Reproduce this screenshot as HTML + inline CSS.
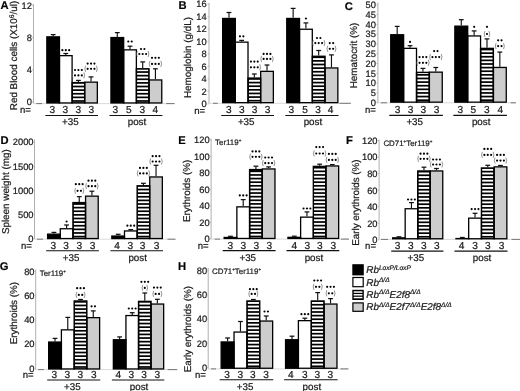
<!DOCTYPE html>
<html><head><meta charset="utf-8"><style>
html,body{margin:0;padding:0;background:#fff;overflow:hidden;}
svg{display:block;font-family:"Liberation Sans", sans-serif;filter:blur(0.3px);text-rendering:geometricPrecision;}
text{stroke:#1a1a1a;stroke-width:0.22px;}
</style></head><body>
<svg width="520" height="391" viewBox="0 0 520 391">
<rect width="520" height="391" fill="#fff"/>
<line x1="33.5" y1="4.0" x2="33.5" y2="103.6" stroke="#b0b0b0" stroke-width="1"/>
<line x1="33.5" y1="103.6" x2="174.6" y2="103.6" stroke="#d6d6d6" stroke-width="0.9"/>
<line x1="36.3" y1="103.6" x2="42.1" y2="103.6" stroke="#777" stroke-width="1"/>
<line x1="166.2" y1="103.6" x2="174.6" y2="103.6" stroke="#777" stroke-width="1"/>
<text transform="translate(31.90,105.40) " font-size="9.3" text-anchor="end" fill="#1a1a1a">0</text>
<line x1="32.0" y1="102.10" x2="33.5" y2="102.10" stroke="#b0b0b0" stroke-width="0.8"/>
<text transform="translate(31.90,73.13) " font-size="9.3" text-anchor="end" fill="#1a1a1a">4</text>
<line x1="32.0" y1="69.83" x2="33.5" y2="69.83" stroke="#b0b0b0" stroke-width="0.8"/>
<text transform="translate(31.90,40.87) " font-size="9.3" text-anchor="end" fill="#1a1a1a">8</text>
<line x1="32.0" y1="37.57" x2="33.5" y2="37.57" stroke="#b0b0b0" stroke-width="0.8"/>
<text transform="translate(31.90,8.60) " font-size="9.3" text-anchor="end" fill="#1a1a1a">12</text>
<line x1="32.0" y1="5.30" x2="33.5" y2="5.30" stroke="#b0b0b0" stroke-width="0.8"/>
<text x="0.50" y="8.80" font-size="11.2" text-anchor="start" fill="#000" font-weight="bold" font-style="normal" >A</text>
<text transform="translate(16.70,55.50) rotate(-90)" x="0" y="0" font-size="9.85" text-anchor="middle" fill="#1a1a1a">Red Blood cells (X10<tspan font-size="6.8" dy="-3.2">6</tspan><tspan dy="3.2">/ul)</tspan></text>
<rect x="46.85" y="36.85" width="12.62" height="66.10" fill="#000"/>
<rect x="59.48" y="55.65" width="12.62" height="47.30" fill="#fff"/>
<rect x="72.10" y="82.55" width="12.62" height="20.40" fill="#000"/>
<rect x="72.85" y="101.85" width="11.12" height="0.45" fill="#fff"/>
<rect x="72.85" y="98.23" width="11.12" height="1.90" fill="#fff"/>
<rect x="72.85" y="94.61" width="11.12" height="1.90" fill="#fff"/>
<rect x="72.85" y="90.99" width="11.12" height="1.90" fill="#fff"/>
<rect x="72.85" y="87.37" width="11.12" height="1.90" fill="#fff"/>
<rect x="72.85" y="83.75" width="11.12" height="1.90" fill="#fff"/>
<rect x="84.72" y="82.15" width="12.62" height="20.80" fill="#cdcdcd"/>
<rect x="46.85" y="36.85" width="12.62" height="66.10" fill="none" stroke="#000" stroke-width="1.3"/>
<rect x="59.48" y="55.65" width="12.62" height="47.30" fill="none" stroke="#000" stroke-width="1.3"/>
<rect x="72.10" y="82.55" width="12.62" height="20.40" fill="none" stroke="#000" stroke-width="1.3"/>
<rect x="84.72" y="82.15" width="12.62" height="20.80" fill="none" stroke="#000" stroke-width="1.3"/>
<line x1="53.16" y1="34.60" x2="53.16" y2="36.20" stroke="#111" stroke-width="1.15"/>
<line x1="50.76" y1="34.60" x2="55.56" y2="34.60" stroke="#111" stroke-width="1.25"/>
<line x1="65.79" y1="53.50" x2="65.79" y2="55.00" stroke="#111" stroke-width="1.15"/>
<line x1="63.39" y1="53.50" x2="68.19" y2="53.50" stroke="#111" stroke-width="1.25"/>
<line x1="78.41" y1="80.40" x2="78.41" y2="81.90" stroke="#111" stroke-width="1.15"/>
<line x1="76.01" y1="80.40" x2="80.81" y2="80.40" stroke="#111" stroke-width="1.25"/>
<line x1="91.04" y1="76.90" x2="91.04" y2="81.50" stroke="#111" stroke-width="1.15"/>
<line x1="88.64" y1="76.90" x2="93.44" y2="76.90" stroke="#111" stroke-width="1.25"/>
<text x="52.30" y="113.30" font-size="10.1" text-anchor="middle" fill="#1a1a1a" font-weight="normal" font-style="normal" >3</text>
<circle cx="62.39" cy="50.20" r="1.08" fill="#000"/>
<circle cx="65.79" cy="50.20" r="1.08" fill="#000"/>
<circle cx="69.19" cy="50.20" r="1.08" fill="#000"/>
<text x="65.40" y="113.30" font-size="10.1" text-anchor="middle" fill="#1a1a1a" font-weight="normal" font-style="normal" >3</text>
<circle cx="75.01" cy="70.00" r="1.08" fill="#000"/>
<circle cx="78.41" cy="70.00" r="1.08" fill="#000"/>
<circle cx="81.81" cy="70.00" r="1.08" fill="#000"/>
<circle cx="75.01" cy="75.40" r="1.08" fill="#000"/>
<circle cx="78.41" cy="75.40" r="1.08" fill="#000"/>
<circle cx="81.81" cy="75.40" r="1.08" fill="#000"/>
<path d="M73.01,72.40 Q71.41,75.40 73.01,78.40" stroke="#666" stroke-width="0.7" fill="none"/>
<path d="M83.81,72.40 Q85.41,75.40 83.81,78.40" stroke="#666" stroke-width="0.7" fill="none"/>
<text x="78.20" y="113.30" font-size="10.1" text-anchor="middle" fill="#1a1a1a" font-weight="normal" font-style="normal" >3</text>
<circle cx="87.64" cy="63.60" r="1.08" fill="#000"/>
<circle cx="91.04" cy="63.60" r="1.08" fill="#000"/>
<circle cx="94.44" cy="63.60" r="1.08" fill="#000"/>
<circle cx="87.64" cy="68.80" r="1.08" fill="#000"/>
<circle cx="91.04" cy="68.80" r="1.08" fill="#000"/>
<circle cx="94.44" cy="68.80" r="1.08" fill="#000"/>
<path d="M85.64,65.80 Q84.04,68.80 85.64,71.80" stroke="#666" stroke-width="0.7" fill="none"/>
<path d="M96.44,65.80 Q98.04,68.80 96.44,71.80" stroke="#666" stroke-width="0.7" fill="none"/>
<text x="91.30" y="113.30" font-size="10.1" text-anchor="middle" fill="#1a1a1a" font-weight="normal" font-style="normal" >3</text>
<line x1="45.40" y1="115.5" x2="98.00" y2="115.5" stroke="#111" stroke-width="1.1"/>
<text x="70.30" y="124.70" font-size="9.8" text-anchor="middle" fill="#1a1a1a" font-weight="normal" font-style="normal" >+35</text>
<rect x="110.95" y="37.55" width="12.71" height="65.40" fill="#000"/>
<rect x="123.66" y="49.85" width="12.71" height="53.10" fill="#fff"/>
<rect x="136.36" y="68.75" width="12.71" height="34.20" fill="#000"/>
<rect x="137.11" y="101.85" width="11.21" height="0.45" fill="#fff"/>
<rect x="137.11" y="98.23" width="11.21" height="1.90" fill="#fff"/>
<rect x="137.11" y="94.61" width="11.21" height="1.90" fill="#fff"/>
<rect x="137.11" y="90.99" width="11.21" height="1.90" fill="#fff"/>
<rect x="137.11" y="87.37" width="11.21" height="1.90" fill="#fff"/>
<rect x="137.11" y="83.75" width="11.21" height="1.90" fill="#fff"/>
<rect x="137.11" y="80.13" width="11.21" height="1.90" fill="#fff"/>
<rect x="137.11" y="76.51" width="11.21" height="1.90" fill="#fff"/>
<rect x="137.11" y="72.89" width="11.21" height="1.90" fill="#fff"/>
<rect x="137.11" y="69.50" width="11.21" height="1.67" fill="#fff"/>
<rect x="149.06" y="79.95" width="12.71" height="23.00" fill="#cdcdcd"/>
<rect x="110.95" y="37.55" width="12.71" height="65.40" fill="none" stroke="#000" stroke-width="1.3"/>
<rect x="123.66" y="49.85" width="12.71" height="53.10" fill="none" stroke="#000" stroke-width="1.3"/>
<rect x="136.36" y="68.75" width="12.71" height="34.20" fill="none" stroke="#000" stroke-width="1.3"/>
<rect x="149.06" y="79.95" width="12.71" height="23.00" fill="none" stroke="#000" stroke-width="1.3"/>
<line x1="117.30" y1="32.60" x2="117.30" y2="36.90" stroke="#111" stroke-width="1.15"/>
<line x1="114.90" y1="32.60" x2="119.70" y2="32.60" stroke="#111" stroke-width="1.25"/>
<line x1="130.01" y1="46.20" x2="130.01" y2="49.20" stroke="#111" stroke-width="1.15"/>
<line x1="127.61" y1="46.20" x2="132.41" y2="46.20" stroke="#111" stroke-width="1.25"/>
<line x1="142.71" y1="61.90" x2="142.71" y2="68.10" stroke="#111" stroke-width="1.15"/>
<line x1="140.31" y1="61.90" x2="145.11" y2="61.90" stroke="#111" stroke-width="1.25"/>
<line x1="155.42" y1="68.80" x2="155.42" y2="79.30" stroke="#111" stroke-width="1.15"/>
<line x1="153.02" y1="68.80" x2="157.82" y2="68.80" stroke="#111" stroke-width="1.25"/>
<text x="115.30" y="113.30" font-size="10.1" text-anchor="middle" fill="#1a1a1a" font-weight="normal" font-style="normal" >3</text>
<circle cx="128.31" cy="41.50" r="1.08" fill="#000"/>
<circle cx="131.71" cy="41.50" r="1.08" fill="#000"/>
<text x="128.90" y="113.30" font-size="10.1" text-anchor="middle" fill="#1a1a1a" font-weight="normal" font-style="normal" >5</text>
<circle cx="141.01" cy="49.00" r="1.08" fill="#000"/>
<circle cx="144.41" cy="49.00" r="1.08" fill="#000"/>
<circle cx="139.31" cy="54.00" r="1.08" fill="#000"/>
<circle cx="142.71" cy="54.00" r="1.08" fill="#000"/>
<circle cx="146.11" cy="54.00" r="1.08" fill="#000"/>
<path d="M137.31,51.00 Q135.71,54.00 137.31,57.00" stroke="#666" stroke-width="0.7" fill="none"/>
<path d="M148.11,51.00 Q149.71,54.00 148.11,57.00" stroke="#666" stroke-width="0.7" fill="none"/>
<text x="142.20" y="113.30" font-size="10.1" text-anchor="middle" fill="#1a1a1a" font-weight="normal" font-style="normal" >3</text>
<circle cx="152.02" cy="57.80" r="1.08" fill="#000"/>
<circle cx="155.42" cy="57.80" r="1.08" fill="#000"/>
<circle cx="158.82" cy="57.80" r="1.08" fill="#000"/>
<circle cx="152.02" cy="63.90" r="1.08" fill="#000"/>
<circle cx="155.42" cy="63.90" r="1.08" fill="#000"/>
<circle cx="158.82" cy="63.90" r="1.08" fill="#000"/>
<path d="M150.02,60.90 Q148.42,63.90 150.02,66.90" stroke="#666" stroke-width="0.7" fill="none"/>
<path d="M160.82,60.90 Q162.42,63.90 160.82,66.90" stroke="#666" stroke-width="0.7" fill="none"/>
<text x="155.20" y="113.30" font-size="10.1" text-anchor="middle" fill="#1a1a1a" font-weight="normal" font-style="normal" >4</text>
<line x1="109.50" y1="115.5" x2="162.42" y2="115.5" stroke="#111" stroke-width="1.1"/>
<text x="136.96" y="124.70" font-size="9.8" text-anchor="middle" fill="#1a1a1a" font-weight="normal" font-style="normal" >post</text>
<text x="30.90" y="113.20" font-size="9.6" text-anchor="end" fill="#1a1a1a" font-weight="normal" font-style="normal" >n=</text>
<line x1="209.0" y1="3.0" x2="209.0" y2="103.3" stroke="#b0b0b0" stroke-width="1"/>
<line x1="209.0" y1="103.3" x2="350.8" y2="103.3" stroke="#d6d6d6" stroke-width="0.9"/>
<line x1="213" y1="103.3" x2="217.7" y2="103.3" stroke="#777" stroke-width="1"/>
<line x1="339.5" y1="103.3" x2="350.8" y2="103.3" stroke="#777" stroke-width="1"/>
<text transform="translate(206.60,107.20) " font-size="9.3" text-anchor="end" fill="#1a1a1a">0</text>
<line x1="207.5" y1="103.90" x2="209.0" y2="103.90" stroke="#b0b0b0" stroke-width="0.8"/>
<text transform="translate(206.60,94.69) " font-size="9.3" text-anchor="end" fill="#1a1a1a">2</text>
<line x1="207.5" y1="91.39" x2="209.0" y2="91.39" stroke="#b0b0b0" stroke-width="0.8"/>
<text transform="translate(206.60,82.17) " font-size="9.3" text-anchor="end" fill="#1a1a1a">4</text>
<line x1="207.5" y1="78.88" x2="209.0" y2="78.88" stroke="#b0b0b0" stroke-width="0.8"/>
<text transform="translate(206.60,69.66) " font-size="9.3" text-anchor="end" fill="#1a1a1a">6</text>
<line x1="207.5" y1="66.36" x2="209.0" y2="66.36" stroke="#b0b0b0" stroke-width="0.8"/>
<text transform="translate(206.60,57.15) " font-size="9.3" text-anchor="end" fill="#1a1a1a">8</text>
<line x1="207.5" y1="53.85" x2="209.0" y2="53.85" stroke="#b0b0b0" stroke-width="0.8"/>
<text transform="translate(206.60,44.64) " font-size="9.3" text-anchor="end" fill="#1a1a1a">10</text>
<line x1="207.5" y1="41.34" x2="209.0" y2="41.34" stroke="#b0b0b0" stroke-width="0.8"/>
<text transform="translate(206.60,32.12) " font-size="9.3" text-anchor="end" fill="#1a1a1a">12</text>
<line x1="207.5" y1="28.83" x2="209.0" y2="28.83" stroke="#b0b0b0" stroke-width="0.8"/>
<text transform="translate(206.60,19.61) " font-size="9.3" text-anchor="end" fill="#1a1a1a">14</text>
<line x1="207.5" y1="16.31" x2="209.0" y2="16.31" stroke="#b0b0b0" stroke-width="0.8"/>
<text transform="translate(206.60,7.10) " font-size="9.3" text-anchor="end" fill="#1a1a1a">16</text>
<line x1="207.5" y1="3.80" x2="209.0" y2="3.80" stroke="#b0b0b0" stroke-width="0.8"/>
<text x="178.40" y="8.80" font-size="11.2" text-anchor="start" fill="#000" font-weight="bold" font-style="normal" >B</text>
<text transform="translate(190.50,57.50) rotate(-90)" x="0" y="0" font-size="9.85" text-anchor="middle" fill="#1a1a1a">Hemoglobin (g/dL)</text>
<rect x="222.65" y="18.45" width="12.68" height="84.20" fill="#000"/>
<rect x="235.33" y="42.15" width="12.68" height="60.50" fill="#fff"/>
<rect x="248.00" y="78.05" width="12.68" height="24.60" fill="#000"/>
<rect x="248.75" y="101.55" width="11.18" height="0.45" fill="#fff"/>
<rect x="248.75" y="97.93" width="11.18" height="1.90" fill="#fff"/>
<rect x="248.75" y="94.31" width="11.18" height="1.90" fill="#fff"/>
<rect x="248.75" y="90.69" width="11.18" height="1.90" fill="#fff"/>
<rect x="248.75" y="87.07" width="11.18" height="1.90" fill="#fff"/>
<rect x="248.75" y="83.45" width="11.18" height="1.90" fill="#fff"/>
<rect x="248.75" y="79.83" width="11.18" height="1.90" fill="#fff"/>
<rect x="260.68" y="71.35" width="12.68" height="31.30" fill="#cdcdcd"/>
<rect x="222.65" y="18.45" width="12.68" height="84.20" fill="none" stroke="#000" stroke-width="1.3"/>
<rect x="235.33" y="42.15" width="12.68" height="60.50" fill="none" stroke="#000" stroke-width="1.3"/>
<rect x="248.00" y="78.05" width="12.68" height="24.60" fill="none" stroke="#000" stroke-width="1.3"/>
<rect x="260.68" y="71.35" width="12.68" height="31.30" fill="none" stroke="#000" stroke-width="1.3"/>
<line x1="228.99" y1="12.50" x2="228.99" y2="17.80" stroke="#111" stroke-width="1.15"/>
<line x1="226.59" y1="12.50" x2="231.39" y2="12.50" stroke="#111" stroke-width="1.25"/>
<line x1="241.66" y1="40.40" x2="241.66" y2="41.50" stroke="#111" stroke-width="1.15"/>
<line x1="239.26" y1="40.40" x2="244.06" y2="40.40" stroke="#111" stroke-width="1.25"/>
<line x1="254.34" y1="74.00" x2="254.34" y2="77.40" stroke="#111" stroke-width="1.15"/>
<line x1="251.94" y1="74.00" x2="256.74" y2="74.00" stroke="#111" stroke-width="1.25"/>
<line x1="267.01" y1="65.00" x2="267.01" y2="70.70" stroke="#111" stroke-width="1.15"/>
<line x1="264.61" y1="65.00" x2="269.41" y2="65.00" stroke="#111" stroke-width="1.25"/>
<text x="228.80" y="113.40" font-size="10.1" text-anchor="middle" fill="#1a1a1a" font-weight="normal" font-style="normal" >3</text>
<circle cx="239.96" cy="36.30" r="1.08" fill="#000"/>
<circle cx="243.36" cy="36.30" r="1.08" fill="#000"/>
<text x="241.80" y="113.40" font-size="10.1" text-anchor="middle" fill="#1a1a1a" font-weight="normal" font-style="normal" >3</text>
<circle cx="250.94" cy="61.60" r="1.08" fill="#000"/>
<circle cx="254.34" cy="61.60" r="1.08" fill="#000"/>
<circle cx="257.74" cy="61.60" r="1.08" fill="#000"/>
<circle cx="250.94" cy="67.30" r="1.08" fill="#000"/>
<circle cx="254.34" cy="67.30" r="1.08" fill="#000"/>
<circle cx="257.74" cy="67.30" r="1.08" fill="#000"/>
<path d="M248.94,64.30 Q247.34,67.30 248.94,70.30" stroke="#666" stroke-width="0.7" fill="none"/>
<path d="M259.74,64.30 Q261.34,67.30 259.74,70.30" stroke="#666" stroke-width="0.7" fill="none"/>
<text x="254.50" y="113.40" font-size="10.1" text-anchor="middle" fill="#1a1a1a" font-weight="normal" font-style="normal" >3</text>
<circle cx="263.61" cy="53.90" r="1.08" fill="#000"/>
<circle cx="267.01" cy="53.90" r="1.08" fill="#000"/>
<circle cx="270.41" cy="53.90" r="1.08" fill="#000"/>
<circle cx="263.61" cy="58.90" r="1.08" fill="#000"/>
<circle cx="267.01" cy="58.90" r="1.08" fill="#000"/>
<circle cx="270.41" cy="58.90" r="1.08" fill="#000"/>
<path d="M261.61,55.90 Q260.01,58.90 261.61,61.90" stroke="#666" stroke-width="0.7" fill="none"/>
<path d="M272.41,55.90 Q274.01,58.90 272.41,61.90" stroke="#666" stroke-width="0.7" fill="none"/>
<text x="267.50" y="113.40" font-size="10.1" text-anchor="middle" fill="#1a1a1a" font-weight="normal" font-style="normal" >3</text>
<line x1="221.20" y1="115.5" x2="274.00" y2="115.5" stroke="#111" stroke-width="1.1"/>
<text x="246.20" y="125.00" font-size="9.8" text-anchor="middle" fill="#1a1a1a" font-weight="normal" font-style="normal" >+35</text>
<rect x="286.75" y="18.45" width="12.78" height="84.20" fill="#000"/>
<rect x="299.52" y="29.25" width="12.78" height="73.40" fill="#fff"/>
<rect x="312.30" y="56.25" width="12.78" height="46.40" fill="#000"/>
<rect x="313.05" y="101.55" width="11.28" height="0.45" fill="#fff"/>
<rect x="313.05" y="97.93" width="11.28" height="1.90" fill="#fff"/>
<rect x="313.05" y="94.31" width="11.28" height="1.90" fill="#fff"/>
<rect x="313.05" y="90.69" width="11.28" height="1.90" fill="#fff"/>
<rect x="313.05" y="87.07" width="11.28" height="1.90" fill="#fff"/>
<rect x="313.05" y="83.45" width="11.28" height="1.90" fill="#fff"/>
<rect x="313.05" y="79.83" width="11.28" height="1.90" fill="#fff"/>
<rect x="313.05" y="76.21" width="11.28" height="1.90" fill="#fff"/>
<rect x="313.05" y="72.59" width="11.28" height="1.90" fill="#fff"/>
<rect x="313.05" y="68.97" width="11.28" height="1.90" fill="#fff"/>
<rect x="313.05" y="65.35" width="11.28" height="1.90" fill="#fff"/>
<rect x="313.05" y="61.73" width="11.28" height="1.90" fill="#fff"/>
<rect x="313.05" y="58.11" width="11.28" height="1.90" fill="#fff"/>
<rect x="325.07" y="67.95" width="12.78" height="34.70" fill="#cdcdcd"/>
<rect x="286.75" y="18.45" width="12.78" height="84.20" fill="none" stroke="#000" stroke-width="1.3"/>
<rect x="299.52" y="29.25" width="12.78" height="73.40" fill="none" stroke="#000" stroke-width="1.3"/>
<rect x="312.30" y="56.25" width="12.78" height="46.40" fill="none" stroke="#000" stroke-width="1.3"/>
<rect x="325.07" y="67.95" width="12.78" height="34.70" fill="none" stroke="#000" stroke-width="1.3"/>
<line x1="293.14" y1="8.40" x2="293.14" y2="17.80" stroke="#111" stroke-width="1.15"/>
<line x1="290.74" y1="8.40" x2="295.54" y2="8.40" stroke="#111" stroke-width="1.25"/>
<line x1="305.91" y1="22.90" x2="305.91" y2="28.60" stroke="#111" stroke-width="1.15"/>
<line x1="303.51" y1="22.90" x2="308.31" y2="22.90" stroke="#111" stroke-width="1.25"/>
<line x1="318.69" y1="50.50" x2="318.69" y2="55.60" stroke="#111" stroke-width="1.15"/>
<line x1="316.29" y1="50.50" x2="321.09" y2="50.50" stroke="#111" stroke-width="1.25"/>
<line x1="331.46" y1="54.90" x2="331.46" y2="67.30" stroke="#111" stroke-width="1.15"/>
<line x1="329.06" y1="54.90" x2="333.86" y2="54.90" stroke="#111" stroke-width="1.25"/>
<text x="291.30" y="113.40" font-size="10.1" text-anchor="middle" fill="#1a1a1a" font-weight="normal" font-style="normal" >3</text>
<circle cx="305.91" cy="18.50" r="1.08" fill="#000"/>
<text x="305.00" y="113.40" font-size="10.1" text-anchor="middle" fill="#1a1a1a" font-weight="normal" font-style="normal" >5</text>
<circle cx="316.99" cy="38.00" r="1.08" fill="#000"/>
<circle cx="320.39" cy="38.00" r="1.08" fill="#000"/>
<circle cx="315.29" cy="43.10" r="1.08" fill="#000"/>
<circle cx="318.69" cy="43.10" r="1.08" fill="#000"/>
<circle cx="322.09" cy="43.10" r="1.08" fill="#000"/>
<path d="M313.29,40.10 Q311.69,43.10 313.29,46.10" stroke="#666" stroke-width="0.7" fill="none"/>
<path d="M324.09,40.10 Q325.69,43.10 324.09,46.10" stroke="#666" stroke-width="0.7" fill="none"/>
<text x="318.00" y="113.40" font-size="10.1" text-anchor="middle" fill="#1a1a1a" font-weight="normal" font-style="normal" >3</text>
<circle cx="329.76" cy="43.10" r="1.08" fill="#000"/>
<circle cx="333.16" cy="43.10" r="1.08" fill="#000"/>
<circle cx="329.76" cy="48.80" r="1.08" fill="#000"/>
<circle cx="333.16" cy="48.80" r="1.08" fill="#000"/>
<path d="M327.76,45.80 Q326.16,48.80 327.76,51.80" stroke="#666" stroke-width="0.7" fill="none"/>
<path d="M335.16,45.80 Q336.76,48.80 335.16,51.80" stroke="#666" stroke-width="0.7" fill="none"/>
<text x="330.50" y="113.40" font-size="10.1" text-anchor="middle" fill="#1a1a1a" font-weight="normal" font-style="normal" >4</text>
<line x1="285.30" y1="115.5" x2="338.50" y2="115.5" stroke="#111" stroke-width="1.1"/>
<text x="312.90" y="125.00" font-size="9.8" text-anchor="middle" fill="#1a1a1a" font-weight="normal" font-style="normal" >post</text>
<text x="205.20" y="113.60" font-size="9.6" text-anchor="end" fill="#1a1a1a" font-weight="normal" font-style="normal" >n=</text>
<line x1="377.9" y1="2.5" x2="377.9" y2="102.8" stroke="#b0b0b0" stroke-width="1"/>
<line x1="377.9" y1="102.8" x2="515.9" y2="102.8" stroke="#d6d6d6" stroke-width="0.9"/>
<line x1="380.8" y1="102.8" x2="386.9" y2="102.8" stroke="#777" stroke-width="1"/>
<line x1="510.5" y1="102.8" x2="515.9" y2="102.8" stroke="#777" stroke-width="1"/>
<text transform="translate(375.80,106.00) " font-size="9.3" text-anchor="end" fill="#1a1a1a">0</text>
<line x1="376.4" y1="102.70" x2="377.9" y2="102.70" stroke="#b0b0b0" stroke-width="0.8"/>
<text transform="translate(375.80,96.21) " font-size="9.3" text-anchor="end" fill="#1a1a1a">5</text>
<line x1="376.4" y1="92.91" x2="377.9" y2="92.91" stroke="#b0b0b0" stroke-width="0.8"/>
<text transform="translate(375.80,86.42) " font-size="9.3" text-anchor="end" fill="#1a1a1a">10</text>
<line x1="376.4" y1="83.12" x2="377.9" y2="83.12" stroke="#b0b0b0" stroke-width="0.8"/>
<text transform="translate(375.80,76.63) " font-size="9.3" text-anchor="end" fill="#1a1a1a">15</text>
<line x1="376.4" y1="73.33" x2="377.9" y2="73.33" stroke="#b0b0b0" stroke-width="0.8"/>
<text transform="translate(375.80,66.84) " font-size="9.3" text-anchor="end" fill="#1a1a1a">20</text>
<line x1="376.4" y1="63.54" x2="377.9" y2="63.54" stroke="#b0b0b0" stroke-width="0.8"/>
<text transform="translate(375.80,57.05) " font-size="9.3" text-anchor="end" fill="#1a1a1a">25</text>
<line x1="376.4" y1="53.75" x2="377.9" y2="53.75" stroke="#b0b0b0" stroke-width="0.8"/>
<text transform="translate(375.80,47.26) " font-size="9.3" text-anchor="end" fill="#1a1a1a">30</text>
<line x1="376.4" y1="43.96" x2="377.9" y2="43.96" stroke="#b0b0b0" stroke-width="0.8"/>
<text transform="translate(375.80,37.47) " font-size="9.3" text-anchor="end" fill="#1a1a1a">35</text>
<line x1="376.4" y1="34.17" x2="377.9" y2="34.17" stroke="#b0b0b0" stroke-width="0.8"/>
<text transform="translate(375.80,27.68) " font-size="9.3" text-anchor="end" fill="#1a1a1a">40</text>
<line x1="376.4" y1="24.38" x2="377.9" y2="24.38" stroke="#b0b0b0" stroke-width="0.8"/>
<text transform="translate(375.80,17.89) " font-size="9.3" text-anchor="end" fill="#1a1a1a">45</text>
<line x1="376.4" y1="14.59" x2="377.9" y2="14.59" stroke="#b0b0b0" stroke-width="0.8"/>
<text transform="translate(375.80,8.10) " font-size="9.3" text-anchor="end" fill="#1a1a1a">50</text>
<line x1="376.4" y1="4.80" x2="377.9" y2="4.80" stroke="#b0b0b0" stroke-width="0.8"/>
<text x="344.80" y="9.50" font-size="11.2" text-anchor="start" fill="#000" font-weight="bold" font-style="normal" >C</text>
<text transform="translate(357.10,55.50) rotate(-90)" x="0" y="0" font-size="9.85" text-anchor="middle" fill="#1a1a1a">Hematocrit (%)</text>
<rect x="390.75" y="34.75" width="12.88" height="67.40" fill="#000"/>
<rect x="403.62" y="48.35" width="12.88" height="53.80" fill="#fff"/>
<rect x="416.50" y="72.35" width="12.88" height="29.80" fill="#000"/>
<rect x="417.25" y="101.05" width="11.38" height="0.45" fill="#fff"/>
<rect x="417.25" y="97.43" width="11.38" height="1.90" fill="#fff"/>
<rect x="417.25" y="93.81" width="11.38" height="1.90" fill="#fff"/>
<rect x="417.25" y="90.19" width="11.38" height="1.90" fill="#fff"/>
<rect x="417.25" y="86.57" width="11.38" height="1.90" fill="#fff"/>
<rect x="417.25" y="82.95" width="11.38" height="1.90" fill="#fff"/>
<rect x="417.25" y="79.33" width="11.38" height="1.90" fill="#fff"/>
<rect x="417.25" y="75.71" width="11.38" height="1.90" fill="#fff"/>
<rect x="417.25" y="73.10" width="11.38" height="0.89" fill="#fff"/>
<rect x="429.38" y="72.15" width="12.88" height="30.00" fill="#cdcdcd"/>
<rect x="390.75" y="34.75" width="12.88" height="67.40" fill="none" stroke="#000" stroke-width="1.3"/>
<rect x="403.62" y="48.35" width="12.88" height="53.80" fill="none" stroke="#000" stroke-width="1.3"/>
<rect x="416.50" y="72.35" width="12.88" height="29.80" fill="none" stroke="#000" stroke-width="1.3"/>
<rect x="429.38" y="72.15" width="12.88" height="30.00" fill="none" stroke="#000" stroke-width="1.3"/>
<line x1="397.19" y1="26.40" x2="397.19" y2="34.10" stroke="#111" stroke-width="1.15"/>
<line x1="394.79" y1="26.40" x2="399.59" y2="26.40" stroke="#111" stroke-width="1.25"/>
<line x1="410.06" y1="45.70" x2="410.06" y2="47.70" stroke="#111" stroke-width="1.15"/>
<line x1="407.66" y1="45.70" x2="412.46" y2="45.70" stroke="#111" stroke-width="1.25"/>
<line x1="422.94" y1="68.40" x2="422.94" y2="71.70" stroke="#111" stroke-width="1.15"/>
<line x1="420.54" y1="68.40" x2="425.34" y2="68.40" stroke="#111" stroke-width="1.25"/>
<line x1="435.81" y1="67.50" x2="435.81" y2="71.50" stroke="#111" stroke-width="1.15"/>
<line x1="433.41" y1="67.50" x2="438.21" y2="67.50" stroke="#111" stroke-width="1.25"/>
<text x="397.60" y="113.40" font-size="10.1" text-anchor="middle" fill="#1a1a1a" font-weight="normal" font-style="normal" >3</text>
<circle cx="410.06" cy="41.90" r="1.08" fill="#000"/>
<text x="410.50" y="113.40" font-size="10.1" text-anchor="middle" fill="#1a1a1a" font-weight="normal" font-style="normal" >3</text>
<circle cx="419.54" cy="57.10" r="1.08" fill="#000"/>
<circle cx="422.94" cy="57.10" r="1.08" fill="#000"/>
<circle cx="426.34" cy="57.10" r="1.08" fill="#000"/>
<circle cx="419.54" cy="62.80" r="1.08" fill="#000"/>
<circle cx="422.94" cy="62.80" r="1.08" fill="#000"/>
<circle cx="426.34" cy="62.80" r="1.08" fill="#000"/>
<path d="M417.54,59.80 Q415.94,62.80 417.54,65.80" stroke="#666" stroke-width="0.7" fill="none"/>
<path d="M428.34,59.80 Q429.94,62.80 428.34,65.80" stroke="#666" stroke-width="0.7" fill="none"/>
<text x="423.20" y="113.40" font-size="10.1" text-anchor="middle" fill="#1a1a1a" font-weight="normal" font-style="normal" >3</text>
<circle cx="434.11" cy="51.10" r="1.08" fill="#000"/>
<circle cx="437.51" cy="51.10" r="1.08" fill="#000"/>
<circle cx="432.41" cy="57.10" r="1.08" fill="#000"/>
<circle cx="435.81" cy="57.10" r="1.08" fill="#000"/>
<circle cx="439.21" cy="57.10" r="1.08" fill="#000"/>
<path d="M430.41,54.10 Q428.81,57.10 430.41,60.10" stroke="#666" stroke-width="0.7" fill="none"/>
<path d="M441.21,54.10 Q442.81,57.10 441.21,60.10" stroke="#666" stroke-width="0.7" fill="none"/>
<text x="436.50" y="113.40" font-size="10.1" text-anchor="middle" fill="#1a1a1a" font-weight="normal" font-style="normal" >3</text>
<line x1="389.30" y1="115.4" x2="442.90" y2="115.4" stroke="#111" stroke-width="1.1"/>
<text x="414.70" y="125.00" font-size="9.8" text-anchor="middle" fill="#1a1a1a" font-weight="normal" font-style="normal" >+35</text>
<rect x="454.85" y="26.15" width="12.86" height="76.00" fill="#000"/>
<rect x="467.70" y="35.95" width="12.86" height="66.20" fill="#fff"/>
<rect x="480.56" y="48.35" width="12.86" height="53.80" fill="#000"/>
<rect x="481.31" y="101.05" width="11.36" height="0.45" fill="#fff"/>
<rect x="481.31" y="97.43" width="11.36" height="1.90" fill="#fff"/>
<rect x="481.31" y="93.81" width="11.36" height="1.90" fill="#fff"/>
<rect x="481.31" y="90.19" width="11.36" height="1.90" fill="#fff"/>
<rect x="481.31" y="86.57" width="11.36" height="1.90" fill="#fff"/>
<rect x="481.31" y="82.95" width="11.36" height="1.90" fill="#fff"/>
<rect x="481.31" y="79.33" width="11.36" height="1.90" fill="#fff"/>
<rect x="481.31" y="75.71" width="11.36" height="1.90" fill="#fff"/>
<rect x="481.31" y="72.09" width="11.36" height="1.90" fill="#fff"/>
<rect x="481.31" y="68.47" width="11.36" height="1.90" fill="#fff"/>
<rect x="481.31" y="64.85" width="11.36" height="1.90" fill="#fff"/>
<rect x="481.31" y="61.23" width="11.36" height="1.90" fill="#fff"/>
<rect x="481.31" y="57.61" width="11.36" height="1.90" fill="#fff"/>
<rect x="481.31" y="53.99" width="11.36" height="1.90" fill="#fff"/>
<rect x="481.31" y="50.37" width="11.36" height="1.90" fill="#fff"/>
<rect x="493.41" y="67.45" width="12.86" height="34.70" fill="#cdcdcd"/>
<rect x="454.85" y="26.15" width="12.86" height="76.00" fill="none" stroke="#000" stroke-width="1.3"/>
<rect x="467.70" y="35.95" width="12.86" height="66.20" fill="none" stroke="#000" stroke-width="1.3"/>
<rect x="480.56" y="48.35" width="12.86" height="53.80" fill="none" stroke="#000" stroke-width="1.3"/>
<rect x="493.41" y="67.45" width="12.86" height="34.70" fill="none" stroke="#000" stroke-width="1.3"/>
<line x1="461.28" y1="19.70" x2="461.28" y2="25.50" stroke="#111" stroke-width="1.15"/>
<line x1="458.88" y1="19.70" x2="463.68" y2="19.70" stroke="#111" stroke-width="1.25"/>
<line x1="474.13" y1="30.90" x2="474.13" y2="35.30" stroke="#111" stroke-width="1.15"/>
<line x1="471.73" y1="30.90" x2="476.53" y2="30.90" stroke="#111" stroke-width="1.25"/>
<line x1="486.99" y1="38.90" x2="486.99" y2="47.70" stroke="#111" stroke-width="1.15"/>
<line x1="484.59" y1="38.90" x2="489.39" y2="38.90" stroke="#111" stroke-width="1.25"/>
<line x1="499.84" y1="52.10" x2="499.84" y2="66.80" stroke="#111" stroke-width="1.15"/>
<line x1="497.44" y1="52.10" x2="502.24" y2="52.10" stroke="#111" stroke-width="1.25"/>
<text x="460.40" y="113.40" font-size="10.1" text-anchor="middle" fill="#1a1a1a" font-weight="normal" font-style="normal" >3</text>
<circle cx="474.13" cy="26.80" r="1.08" fill="#000"/>
<text x="473.30" y="113.40" font-size="10.1" text-anchor="middle" fill="#1a1a1a" font-weight="normal" font-style="normal" >5</text>
<circle cx="486.99" cy="26.80" r="1.08" fill="#000"/>
<circle cx="486.99" cy="34.00" r="1.08" fill="#000"/>
<path d="M484.99,31.00 Q483.39,34.00 484.99,37.00" stroke="#666" stroke-width="0.7" fill="none"/>
<path d="M488.99,31.00 Q490.59,34.00 488.99,37.00" stroke="#666" stroke-width="0.7" fill="none"/>
<text x="486.90" y="113.40" font-size="10.1" text-anchor="middle" fill="#1a1a1a" font-weight="normal" font-style="normal" >3</text>
<circle cx="498.14" cy="40.30" r="1.08" fill="#000"/>
<circle cx="501.54" cy="40.30" r="1.08" fill="#000"/>
<circle cx="498.14" cy="46.10" r="1.08" fill="#000"/>
<circle cx="501.54" cy="46.10" r="1.08" fill="#000"/>
<path d="M496.14,43.10 Q494.54,46.10 496.14,49.10" stroke="#666" stroke-width="0.7" fill="none"/>
<path d="M503.54,43.10 Q505.14,46.10 503.54,49.10" stroke="#666" stroke-width="0.7" fill="none"/>
<text x="500.30" y="113.40" font-size="10.1" text-anchor="middle" fill="#1a1a1a" font-weight="normal" font-style="normal" >4</text>
<line x1="453.40" y1="115.4" x2="506.92" y2="115.4" stroke="#111" stroke-width="1.1"/>
<text x="481.16" y="125.00" font-size="9.8" text-anchor="middle" fill="#1a1a1a" font-weight="normal" font-style="normal" >post</text>
<text x="375.90" y="113.40" font-size="9.6" text-anchor="end" fill="#1a1a1a" font-weight="normal" font-style="normal" >n=</text>
<line x1="34.5" y1="139.5" x2="34.5" y2="239.2" stroke="#b0b0b0" stroke-width="1"/>
<line x1="34.5" y1="239.2" x2="175.5" y2="239.2" stroke="#d6d6d6" stroke-width="0.9"/>
<line x1="37" y1="239.2" x2="43" y2="239.2" stroke="#777" stroke-width="1"/>
<line x1="167.5" y1="239.2" x2="175.5" y2="239.2" stroke="#777" stroke-width="1"/>
<text transform="translate(33.50,241.90) " font-size="9.3" text-anchor="end" fill="#1a1a1a">0</text>
<line x1="33.0" y1="238.60" x2="34.5" y2="238.60" stroke="#b0b0b0" stroke-width="0.8"/>
<text transform="translate(33.50,217.78) " font-size="9.3" text-anchor="end" fill="#1a1a1a">500</text>
<line x1="33.0" y1="214.47" x2="34.5" y2="214.47" stroke="#b0b0b0" stroke-width="0.8"/>
<text transform="translate(33.50,193.65) " font-size="9.3" text-anchor="end" fill="#1a1a1a">1000</text>
<line x1="33.0" y1="190.35" x2="34.5" y2="190.35" stroke="#b0b0b0" stroke-width="0.8"/>
<text transform="translate(33.50,169.53) " font-size="9.3" text-anchor="end" fill="#1a1a1a">1500</text>
<line x1="33.0" y1="166.22" x2="34.5" y2="166.22" stroke="#b0b0b0" stroke-width="0.8"/>
<text transform="translate(33.50,145.40) " font-size="9.3" text-anchor="end" fill="#1a1a1a">2000</text>
<line x1="33.0" y1="142.10" x2="34.5" y2="142.10" stroke="#b0b0b0" stroke-width="0.8"/>
<text x="0.50" y="143.60" font-size="11.2" text-anchor="start" fill="#000" font-weight="bold" font-style="normal" >D</text>
<text transform="translate(8.80,191.70) rotate(-90)" x="0" y="0" font-size="9.85" text-anchor="middle" fill="#1a1a1a">Spleen weight (mg)</text>
<rect x="47.60" y="234.15" width="12.66" height="4.40" fill="#000"/>
<rect x="60.26" y="228.75" width="12.66" height="9.80" fill="#fff"/>
<rect x="72.91" y="202.55" width="12.66" height="36.00" fill="#000"/>
<rect x="73.66" y="237.45" width="11.16" height="0.45" fill="#fff"/>
<rect x="73.66" y="233.83" width="11.16" height="1.90" fill="#fff"/>
<rect x="73.66" y="230.21" width="11.16" height="1.90" fill="#fff"/>
<rect x="73.66" y="226.59" width="11.16" height="1.90" fill="#fff"/>
<rect x="73.66" y="222.97" width="11.16" height="1.90" fill="#fff"/>
<rect x="73.66" y="219.35" width="11.16" height="1.90" fill="#fff"/>
<rect x="73.66" y="215.73" width="11.16" height="1.90" fill="#fff"/>
<rect x="73.66" y="212.11" width="11.16" height="1.90" fill="#fff"/>
<rect x="73.66" y="208.49" width="11.16" height="1.90" fill="#fff"/>
<rect x="73.66" y="204.87" width="11.16" height="1.90" fill="#fff"/>
<rect x="85.56" y="196.15" width="12.66" height="42.40" fill="#cdcdcd"/>
<rect x="47.60" y="234.15" width="12.66" height="4.40" fill="none" stroke="#000" stroke-width="1.3"/>
<rect x="60.26" y="228.75" width="12.66" height="9.80" fill="none" stroke="#000" stroke-width="1.3"/>
<rect x="72.91" y="202.55" width="12.66" height="36.00" fill="none" stroke="#000" stroke-width="1.3"/>
<rect x="85.56" y="196.15" width="12.66" height="42.40" fill="none" stroke="#000" stroke-width="1.3"/>
<line x1="53.93" y1="232.40" x2="53.93" y2="233.50" stroke="#111" stroke-width="1.15"/>
<line x1="51.53" y1="232.40" x2="56.33" y2="232.40" stroke="#111" stroke-width="1.25"/>
<line x1="66.58" y1="225.00" x2="66.58" y2="228.10" stroke="#111" stroke-width="1.15"/>
<line x1="64.18" y1="225.00" x2="68.98" y2="225.00" stroke="#111" stroke-width="1.25"/>
<line x1="79.24" y1="196.60" x2="79.24" y2="201.90" stroke="#111" stroke-width="1.15"/>
<line x1="76.84" y1="196.60" x2="81.64" y2="196.60" stroke="#111" stroke-width="1.25"/>
<line x1="91.89" y1="191.20" x2="91.89" y2="195.50" stroke="#111" stroke-width="1.15"/>
<line x1="89.49" y1="191.20" x2="94.29" y2="191.20" stroke="#111" stroke-width="1.25"/>
<text x="53.40" y="248.70" font-size="10.1" text-anchor="middle" fill="#1a1a1a" font-weight="normal" font-style="normal" >3</text>
<circle cx="66.58" cy="221.50" r="1.08" fill="#000"/>
<text x="66.00" y="248.70" font-size="10.1" text-anchor="middle" fill="#1a1a1a" font-weight="normal" font-style="normal" >3</text>
<circle cx="75.84" cy="184.20" r="1.08" fill="#000"/>
<circle cx="79.24" cy="184.20" r="1.08" fill="#000"/>
<circle cx="82.64" cy="184.20" r="1.08" fill="#000"/>
<circle cx="77.54" cy="190.80" r="1.08" fill="#000"/>
<circle cx="80.94" cy="190.80" r="1.08" fill="#000"/>
<path d="M75.54,187.80 Q73.94,190.80 75.54,193.80" stroke="#666" stroke-width="0.7" fill="none"/>
<path d="M82.94,187.80 Q84.54,190.80 82.94,193.80" stroke="#666" stroke-width="0.7" fill="none"/>
<text x="79.40" y="248.70" font-size="10.1" text-anchor="middle" fill="#1a1a1a" font-weight="normal" font-style="normal" >3</text>
<circle cx="88.49" cy="180.70" r="1.08" fill="#000"/>
<circle cx="91.89" cy="180.70" r="1.08" fill="#000"/>
<circle cx="95.29" cy="180.70" r="1.08" fill="#000"/>
<circle cx="88.49" cy="186.20" r="1.08" fill="#000"/>
<circle cx="91.89" cy="186.20" r="1.08" fill="#000"/>
<circle cx="95.29" cy="186.20" r="1.08" fill="#000"/>
<path d="M86.49,183.20 Q84.89,186.20 86.49,189.20" stroke="#666" stroke-width="0.7" fill="none"/>
<path d="M97.29,183.20 Q98.89,186.20 97.29,189.20" stroke="#666" stroke-width="0.7" fill="none"/>
<text x="92.50" y="248.70" font-size="10.1" text-anchor="middle" fill="#1a1a1a" font-weight="normal" font-style="normal" >3</text>
<line x1="46.15" y1="250.8" x2="98.87" y2="250.8" stroke="#111" stroke-width="1.1"/>
<text x="71.11" y="261.10" font-size="9.8" text-anchor="middle" fill="#1a1a1a" font-weight="normal" font-style="normal" >+35</text>
<rect x="111.85" y="236.05" width="12.62" height="2.50" fill="#000"/>
<rect x="124.48" y="230.95" width="12.62" height="7.60" fill="#fff"/>
<rect x="137.10" y="185.75" width="12.62" height="52.80" fill="#000"/>
<rect x="137.85" y="237.45" width="11.12" height="0.45" fill="#fff"/>
<rect x="137.85" y="233.83" width="11.12" height="1.90" fill="#fff"/>
<rect x="137.85" y="230.21" width="11.12" height="1.90" fill="#fff"/>
<rect x="137.85" y="226.59" width="11.12" height="1.90" fill="#fff"/>
<rect x="137.85" y="222.97" width="11.12" height="1.90" fill="#fff"/>
<rect x="137.85" y="219.35" width="11.12" height="1.90" fill="#fff"/>
<rect x="137.85" y="215.73" width="11.12" height="1.90" fill="#fff"/>
<rect x="137.85" y="212.11" width="11.12" height="1.90" fill="#fff"/>
<rect x="137.85" y="208.49" width="11.12" height="1.90" fill="#fff"/>
<rect x="137.85" y="204.87" width="11.12" height="1.90" fill="#fff"/>
<rect x="137.85" y="201.25" width="11.12" height="1.90" fill="#fff"/>
<rect x="137.85" y="197.63" width="11.12" height="1.90" fill="#fff"/>
<rect x="137.85" y="194.01" width="11.12" height="1.90" fill="#fff"/>
<rect x="137.85" y="190.39" width="11.12" height="1.90" fill="#fff"/>
<rect x="137.85" y="186.77" width="11.12" height="1.90" fill="#fff"/>
<rect x="149.73" y="176.95" width="12.62" height="61.60" fill="#cdcdcd"/>
<rect x="111.85" y="236.05" width="12.62" height="2.50" fill="none" stroke="#000" stroke-width="1.3"/>
<rect x="124.48" y="230.95" width="12.62" height="7.60" fill="none" stroke="#000" stroke-width="1.3"/>
<rect x="137.10" y="185.75" width="12.62" height="52.80" fill="none" stroke="#000" stroke-width="1.3"/>
<rect x="149.73" y="176.95" width="12.62" height="61.60" fill="none" stroke="#000" stroke-width="1.3"/>
<line x1="118.16" y1="234.30" x2="118.16" y2="235.40" stroke="#111" stroke-width="1.15"/>
<line x1="115.76" y1="234.30" x2="120.56" y2="234.30" stroke="#111" stroke-width="1.25"/>
<line x1="130.79" y1="229.60" x2="130.79" y2="230.30" stroke="#111" stroke-width="1.15"/>
<line x1="128.39" y1="229.60" x2="133.19" y2="229.60" stroke="#111" stroke-width="1.25"/>
<line x1="143.41" y1="183.30" x2="143.41" y2="185.10" stroke="#111" stroke-width="1.15"/>
<line x1="141.01" y1="183.30" x2="145.81" y2="183.30" stroke="#111" stroke-width="1.25"/>
<line x1="156.04" y1="165.30" x2="156.04" y2="176.30" stroke="#111" stroke-width="1.15"/>
<line x1="153.64" y1="165.30" x2="158.44" y2="165.30" stroke="#111" stroke-width="1.25"/>
<text x="117.00" y="248.70" font-size="10.1" text-anchor="middle" fill="#1a1a1a" font-weight="normal" font-style="normal" >4</text>
<circle cx="127.39" cy="225.70" r="1.08" fill="#000"/>
<circle cx="130.79" cy="225.70" r="1.08" fill="#000"/>
<circle cx="134.19" cy="225.70" r="1.08" fill="#000"/>
<text x="130.30" y="248.70" font-size="10.1" text-anchor="middle" fill="#1a1a1a" font-weight="normal" font-style="normal" >3</text>
<circle cx="140.01" cy="167.90" r="1.08" fill="#000"/>
<circle cx="143.41" cy="167.90" r="1.08" fill="#000"/>
<circle cx="146.81" cy="167.90" r="1.08" fill="#000"/>
<circle cx="140.01" cy="173.40" r="1.08" fill="#000"/>
<circle cx="143.41" cy="173.40" r="1.08" fill="#000"/>
<circle cx="146.81" cy="173.40" r="1.08" fill="#000"/>
<path d="M138.01,170.40 Q136.41,173.40 138.01,176.40" stroke="#666" stroke-width="0.7" fill="none"/>
<path d="M148.81,170.40 Q150.41,173.40 148.81,176.40" stroke="#666" stroke-width="0.7" fill="none"/>
<text x="142.60" y="248.70" font-size="10.1" text-anchor="middle" fill="#1a1a1a" font-weight="normal" font-style="normal" >3</text>
<circle cx="152.64" cy="156.20" r="1.08" fill="#000"/>
<circle cx="156.04" cy="156.20" r="1.08" fill="#000"/>
<circle cx="159.44" cy="156.20" r="1.08" fill="#000"/>
<circle cx="152.64" cy="161.50" r="1.08" fill="#000"/>
<circle cx="156.04" cy="161.50" r="1.08" fill="#000"/>
<circle cx="159.44" cy="161.50" r="1.08" fill="#000"/>
<path d="M150.64,158.50 Q149.04,161.50 150.64,164.50" stroke="#666" stroke-width="0.7" fill="none"/>
<path d="M161.44,158.50 Q163.04,161.50 161.44,164.50" stroke="#666" stroke-width="0.7" fill="none"/>
<text x="156.60" y="248.70" font-size="10.1" text-anchor="middle" fill="#1a1a1a" font-weight="normal" font-style="normal" >3</text>
<line x1="110.40" y1="250.8" x2="163.00" y2="250.8" stroke="#111" stroke-width="1.1"/>
<text x="137.70" y="261.10" font-size="9.8" text-anchor="middle" fill="#1a1a1a" font-weight="normal" font-style="normal" >post</text>
<text x="31.90" y="248.80" font-size="9.6" text-anchor="end" fill="#1a1a1a" font-weight="normal" font-style="normal" >n=</text>
<line x1="211.1" y1="138.5" x2="211.1" y2="239.1" stroke="#b0b0b0" stroke-width="1"/>
<line x1="211.1" y1="239.1" x2="349" y2="239.1" stroke="#d6d6d6" stroke-width="0.9"/>
<line x1="214.6" y1="239.1" x2="220" y2="239.1" stroke="#777" stroke-width="1"/>
<line x1="341" y1="239.1" x2="349" y2="239.1" stroke="#777" stroke-width="1"/>
<text transform="translate(209.60,242.40) " font-size="9.3" text-anchor="end" fill="#1a1a1a">0</text>
<line x1="209.6" y1="239.10" x2="211.1" y2="239.10" stroke="#b0b0b0" stroke-width="0.8"/>
<text transform="translate(209.60,225.85) " font-size="9.3" text-anchor="end" fill="#1a1a1a">20</text>
<line x1="209.6" y1="222.55" x2="211.1" y2="222.55" stroke="#b0b0b0" stroke-width="0.8"/>
<text transform="translate(209.60,209.30) " font-size="9.3" text-anchor="end" fill="#1a1a1a">40</text>
<line x1="209.6" y1="206.00" x2="211.1" y2="206.00" stroke="#b0b0b0" stroke-width="0.8"/>
<text transform="translate(209.60,192.75) " font-size="9.3" text-anchor="end" fill="#1a1a1a">60</text>
<line x1="209.6" y1="189.45" x2="211.1" y2="189.45" stroke="#b0b0b0" stroke-width="0.8"/>
<text transform="translate(209.60,176.20) " font-size="9.3" text-anchor="end" fill="#1a1a1a">80</text>
<line x1="209.6" y1="172.90" x2="211.1" y2="172.90" stroke="#b0b0b0" stroke-width="0.8"/>
<text transform="translate(209.60,159.65) " font-size="9.3" text-anchor="end" fill="#1a1a1a">100</text>
<line x1="209.6" y1="156.35" x2="211.1" y2="156.35" stroke="#b0b0b0" stroke-width="0.8"/>
<text transform="translate(209.60,143.10) " font-size="9.3" text-anchor="end" fill="#1a1a1a">120</text>
<line x1="209.6" y1="139.80" x2="211.1" y2="139.80" stroke="#b0b0b0" stroke-width="0.8"/>
<text x="178.20" y="143.70" font-size="11.2" text-anchor="start" fill="#000" font-weight="bold" font-style="normal" >E</text>
<text transform="translate(189.80,190.90) rotate(-90)" x="0" y="0" font-size="9.85" text-anchor="middle" fill="#1a1a1a">Erythroids (%)</text>
<text x="215.1" y="145.3" font-size="7.9" fill="#2a2a2a">Ter119<tspan font-size="4.5" dy="-3">+</tspan></text>
<rect x="224.15" y="237.45" width="12.71" height="1.00" fill="#000"/>
<rect x="236.86" y="206.85" width="12.71" height="31.60" fill="#fff"/>
<rect x="249.56" y="169.55" width="12.71" height="68.90" fill="#000"/>
<rect x="250.31" y="237.35" width="11.21" height="0.45" fill="#fff"/>
<rect x="250.31" y="233.73" width="11.21" height="1.90" fill="#fff"/>
<rect x="250.31" y="230.11" width="11.21" height="1.90" fill="#fff"/>
<rect x="250.31" y="226.49" width="11.21" height="1.90" fill="#fff"/>
<rect x="250.31" y="222.87" width="11.21" height="1.90" fill="#fff"/>
<rect x="250.31" y="219.25" width="11.21" height="1.90" fill="#fff"/>
<rect x="250.31" y="215.63" width="11.21" height="1.90" fill="#fff"/>
<rect x="250.31" y="212.01" width="11.21" height="1.90" fill="#fff"/>
<rect x="250.31" y="208.39" width="11.21" height="1.90" fill="#fff"/>
<rect x="250.31" y="204.77" width="11.21" height="1.90" fill="#fff"/>
<rect x="250.31" y="201.15" width="11.21" height="1.90" fill="#fff"/>
<rect x="250.31" y="197.53" width="11.21" height="1.90" fill="#fff"/>
<rect x="250.31" y="193.91" width="11.21" height="1.90" fill="#fff"/>
<rect x="250.31" y="190.29" width="11.21" height="1.90" fill="#fff"/>
<rect x="250.31" y="186.67" width="11.21" height="1.90" fill="#fff"/>
<rect x="250.31" y="183.05" width="11.21" height="1.90" fill="#fff"/>
<rect x="250.31" y="179.43" width="11.21" height="1.90" fill="#fff"/>
<rect x="250.31" y="175.81" width="11.21" height="1.90" fill="#fff"/>
<rect x="250.31" y="172.19" width="11.21" height="1.90" fill="#fff"/>
<rect x="262.26" y="168.95" width="12.71" height="69.50" fill="#cdcdcd"/>
<rect x="224.15" y="237.45" width="12.71" height="1.00" fill="none" stroke="#000" stroke-width="1.3"/>
<rect x="236.86" y="206.85" width="12.71" height="31.60" fill="none" stroke="#000" stroke-width="1.3"/>
<rect x="249.56" y="169.55" width="12.71" height="68.90" fill="none" stroke="#000" stroke-width="1.3"/>
<rect x="262.26" y="168.95" width="12.71" height="69.50" fill="none" stroke="#000" stroke-width="1.3"/>
<line x1="230.50" y1="236.30" x2="230.50" y2="236.80" stroke="#111" stroke-width="1.15"/>
<line x1="228.10" y1="236.30" x2="232.90" y2="236.30" stroke="#111" stroke-width="1.25"/>
<line x1="243.21" y1="199.60" x2="243.21" y2="206.20" stroke="#111" stroke-width="1.15"/>
<line x1="240.81" y1="199.60" x2="245.61" y2="199.60" stroke="#111" stroke-width="1.25"/>
<line x1="255.91" y1="166.20" x2="255.91" y2="168.90" stroke="#111" stroke-width="1.15"/>
<line x1="253.51" y1="166.20" x2="258.31" y2="166.20" stroke="#111" stroke-width="1.25"/>
<line x1="268.62" y1="166.90" x2="268.62" y2="168.30" stroke="#111" stroke-width="1.15"/>
<line x1="266.22" y1="166.90" x2="271.02" y2="166.90" stroke="#111" stroke-width="1.25"/>
<text x="230.20" y="248.80" font-size="10.1" text-anchor="middle" fill="#1a1a1a" font-weight="normal" font-style="normal" >3</text>
<circle cx="239.81" cy="195.40" r="1.08" fill="#000"/>
<circle cx="243.21" cy="195.40" r="1.08" fill="#000"/>
<circle cx="246.61" cy="195.40" r="1.08" fill="#000"/>
<text x="243.40" y="248.80" font-size="10.1" text-anchor="middle" fill="#1a1a1a" font-weight="normal" font-style="normal" >3</text>
<circle cx="252.51" cy="151.40" r="1.08" fill="#000"/>
<circle cx="255.91" cy="151.40" r="1.08" fill="#000"/>
<circle cx="259.31" cy="151.40" r="1.08" fill="#000"/>
<circle cx="252.51" cy="156.80" r="1.08" fill="#000"/>
<circle cx="255.91" cy="156.80" r="1.08" fill="#000"/>
<circle cx="259.31" cy="156.80" r="1.08" fill="#000"/>
<path d="M250.51,153.80 Q248.91,156.80 250.51,159.80" stroke="#666" stroke-width="0.7" fill="none"/>
<path d="M261.31,153.80 Q262.91,156.80 261.31,159.80" stroke="#666" stroke-width="0.7" fill="none"/>
<text x="256.20" y="248.80" font-size="10.1" text-anchor="middle" fill="#1a1a1a" font-weight="normal" font-style="normal" >3</text>
<circle cx="265.22" cy="157.50" r="1.08" fill="#000"/>
<circle cx="268.62" cy="157.50" r="1.08" fill="#000"/>
<circle cx="272.02" cy="157.50" r="1.08" fill="#000"/>
<circle cx="265.22" cy="163.10" r="1.08" fill="#000"/>
<circle cx="268.62" cy="163.10" r="1.08" fill="#000"/>
<circle cx="272.02" cy="163.10" r="1.08" fill="#000"/>
<path d="M263.22,160.10 Q261.62,163.10 263.22,166.10" stroke="#666" stroke-width="0.7" fill="none"/>
<path d="M274.02,160.10 Q275.62,163.10 274.02,166.10" stroke="#666" stroke-width="0.7" fill="none"/>
<text x="269.30" y="248.80" font-size="10.1" text-anchor="middle" fill="#1a1a1a" font-weight="normal" font-style="normal" >3</text>
<line x1="222.70" y1="250.6" x2="275.62" y2="250.6" stroke="#111" stroke-width="1.1"/>
<text x="247.76" y="261.10" font-size="9.8" text-anchor="middle" fill="#1a1a1a" font-weight="normal" font-style="normal" >+35</text>
<rect x="287.95" y="237.35" width="12.68" height="1.10" fill="#000"/>
<rect x="300.62" y="217.15" width="12.68" height="21.30" fill="#fff"/>
<rect x="313.30" y="166.35" width="12.68" height="72.10" fill="#000"/>
<rect x="314.05" y="237.35" width="11.18" height="0.45" fill="#fff"/>
<rect x="314.05" y="233.73" width="11.18" height="1.90" fill="#fff"/>
<rect x="314.05" y="230.11" width="11.18" height="1.90" fill="#fff"/>
<rect x="314.05" y="226.49" width="11.18" height="1.90" fill="#fff"/>
<rect x="314.05" y="222.87" width="11.18" height="1.90" fill="#fff"/>
<rect x="314.05" y="219.25" width="11.18" height="1.90" fill="#fff"/>
<rect x="314.05" y="215.63" width="11.18" height="1.90" fill="#fff"/>
<rect x="314.05" y="212.01" width="11.18" height="1.90" fill="#fff"/>
<rect x="314.05" y="208.39" width="11.18" height="1.90" fill="#fff"/>
<rect x="314.05" y="204.77" width="11.18" height="1.90" fill="#fff"/>
<rect x="314.05" y="201.15" width="11.18" height="1.90" fill="#fff"/>
<rect x="314.05" y="197.53" width="11.18" height="1.90" fill="#fff"/>
<rect x="314.05" y="193.91" width="11.18" height="1.90" fill="#fff"/>
<rect x="314.05" y="190.29" width="11.18" height="1.90" fill="#fff"/>
<rect x="314.05" y="186.67" width="11.18" height="1.90" fill="#fff"/>
<rect x="314.05" y="183.05" width="11.18" height="1.90" fill="#fff"/>
<rect x="314.05" y="179.43" width="11.18" height="1.90" fill="#fff"/>
<rect x="314.05" y="175.81" width="11.18" height="1.90" fill="#fff"/>
<rect x="314.05" y="172.19" width="11.18" height="1.90" fill="#fff"/>
<rect x="314.05" y="168.57" width="11.18" height="1.90" fill="#fff"/>
<rect x="325.98" y="165.95" width="12.68" height="72.50" fill="#cdcdcd"/>
<rect x="287.95" y="237.35" width="12.68" height="1.10" fill="none" stroke="#000" stroke-width="1.3"/>
<rect x="300.62" y="217.15" width="12.68" height="21.30" fill="none" stroke="#000" stroke-width="1.3"/>
<rect x="313.30" y="166.35" width="12.68" height="72.10" fill="none" stroke="#000" stroke-width="1.3"/>
<rect x="325.98" y="165.95" width="12.68" height="72.50" fill="none" stroke="#000" stroke-width="1.3"/>
<line x1="294.29" y1="236.20" x2="294.29" y2="236.70" stroke="#111" stroke-width="1.15"/>
<line x1="291.89" y1="236.20" x2="296.69" y2="236.20" stroke="#111" stroke-width="1.25"/>
<line x1="306.96" y1="211.90" x2="306.96" y2="216.50" stroke="#111" stroke-width="1.15"/>
<line x1="304.56" y1="211.90" x2="309.36" y2="211.90" stroke="#111" stroke-width="1.25"/>
<line x1="319.64" y1="164.20" x2="319.64" y2="165.70" stroke="#111" stroke-width="1.15"/>
<line x1="317.24" y1="164.20" x2="322.04" y2="164.20" stroke="#111" stroke-width="1.25"/>
<line x1="332.31" y1="164.60" x2="332.31" y2="165.30" stroke="#111" stroke-width="1.15"/>
<line x1="329.91" y1="164.60" x2="334.71" y2="164.60" stroke="#111" stroke-width="1.25"/>
<text x="294.20" y="248.80" font-size="10.1" text-anchor="middle" fill="#1a1a1a" font-weight="normal" font-style="normal" >4</text>
<circle cx="303.56" cy="208.50" r="1.08" fill="#000"/>
<circle cx="306.96" cy="208.50" r="1.08" fill="#000"/>
<circle cx="310.36" cy="208.50" r="1.08" fill="#000"/>
<text x="307.20" y="248.80" font-size="10.1" text-anchor="middle" fill="#1a1a1a" font-weight="normal" font-style="normal" >3</text>
<circle cx="316.24" cy="147.10" r="1.08" fill="#000"/>
<circle cx="319.64" cy="147.10" r="1.08" fill="#000"/>
<circle cx="323.04" cy="147.10" r="1.08" fill="#000"/>
<circle cx="316.24" cy="153.50" r="1.08" fill="#000"/>
<circle cx="319.64" cy="153.50" r="1.08" fill="#000"/>
<circle cx="323.04" cy="153.50" r="1.08" fill="#000"/>
<path d="M314.24,150.50 Q312.64,153.50 314.24,156.50" stroke="#666" stroke-width="0.7" fill="none"/>
<path d="M325.04,150.50 Q326.64,153.50 325.04,156.50" stroke="#666" stroke-width="0.7" fill="none"/>
<text x="319.80" y="248.80" font-size="10.1" text-anchor="middle" fill="#1a1a1a" font-weight="normal" font-style="normal" >3</text>
<circle cx="328.91" cy="153.90" r="1.08" fill="#000"/>
<circle cx="332.31" cy="153.90" r="1.08" fill="#000"/>
<circle cx="335.71" cy="153.90" r="1.08" fill="#000"/>
<circle cx="328.91" cy="159.90" r="1.08" fill="#000"/>
<circle cx="332.31" cy="159.90" r="1.08" fill="#000"/>
<circle cx="335.71" cy="159.90" r="1.08" fill="#000"/>
<path d="M326.91,156.90 Q325.31,159.90 326.91,162.90" stroke="#666" stroke-width="0.7" fill="none"/>
<path d="M337.71,156.90 Q339.31,159.90 337.71,162.90" stroke="#666" stroke-width="0.7" fill="none"/>
<text x="333.30" y="248.80" font-size="10.1" text-anchor="middle" fill="#1a1a1a" font-weight="normal" font-style="normal" >3</text>
<line x1="286.50" y1="250.6" x2="339.30" y2="250.6" stroke="#111" stroke-width="1.1"/>
<text x="313.90" y="261.10" font-size="9.8" text-anchor="middle" fill="#1a1a1a" font-weight="normal" font-style="normal" >post</text>
<text x="208.70" y="248.50" font-size="9.6" text-anchor="end" fill="#1a1a1a" font-weight="normal" font-style="normal" >n=</text>
<line x1="379.1" y1="139.5" x2="379.1" y2="239.4" stroke="#b0b0b0" stroke-width="1"/>
<line x1="379.1" y1="239.4" x2="520" y2="239.4" stroke="#d6d6d6" stroke-width="0.9"/>
<line x1="381.1" y1="239.4" x2="388" y2="239.4" stroke="#777" stroke-width="1"/>
<line x1="511.6" y1="239.4" x2="520" y2="239.4" stroke="#777" stroke-width="1"/>
<text transform="translate(377.50,243.10) " font-size="9.3" text-anchor="end" fill="#1a1a1a">0</text>
<line x1="377.6" y1="239.80" x2="379.1" y2="239.80" stroke="#b0b0b0" stroke-width="0.8"/>
<text transform="translate(377.50,226.57) " font-size="9.3" text-anchor="end" fill="#1a1a1a">20</text>
<line x1="377.6" y1="223.27" x2="379.1" y2="223.27" stroke="#b0b0b0" stroke-width="0.8"/>
<text transform="translate(377.50,210.03) " font-size="9.3" text-anchor="end" fill="#1a1a1a">40</text>
<line x1="377.6" y1="206.73" x2="379.1" y2="206.73" stroke="#b0b0b0" stroke-width="0.8"/>
<text transform="translate(377.50,193.50) " font-size="9.3" text-anchor="end" fill="#1a1a1a">60</text>
<line x1="377.6" y1="190.20" x2="379.1" y2="190.20" stroke="#b0b0b0" stroke-width="0.8"/>
<text transform="translate(377.50,176.97) " font-size="9.3" text-anchor="end" fill="#1a1a1a">80</text>
<line x1="377.6" y1="173.67" x2="379.1" y2="173.67" stroke="#b0b0b0" stroke-width="0.8"/>
<text transform="translate(377.50,160.43) " font-size="9.3" text-anchor="end" fill="#1a1a1a">100</text>
<line x1="377.6" y1="157.13" x2="379.1" y2="157.13" stroke="#b0b0b0" stroke-width="0.8"/>
<text transform="translate(377.50,143.90) " font-size="9.3" text-anchor="end" fill="#1a1a1a">120</text>
<line x1="377.6" y1="140.60" x2="379.1" y2="140.60" stroke="#b0b0b0" stroke-width="0.8"/>
<text x="346.10" y="143.60" font-size="11.2" text-anchor="start" fill="#000" font-weight="bold" font-style="normal" >F</text>
<text transform="translate(359.30,202.60) rotate(-90)" x="0" y="0" font-size="9.85" text-anchor="middle" fill="#1a1a1a">Early erythroids (%)</text>
<text x="383.4" y="146.0" font-size="7.9" fill="#2a2a2a">CD71<tspan font-size="4.5" dy="-3">+</tspan><tspan dy="3">Ter119</tspan><tspan font-size="4.5" dy="-3">+</tspan></text>
<rect x="392.65" y="237.85" width="12.53" height="0.90" fill="#000"/>
<rect x="405.17" y="208.75" width="12.53" height="30.00" fill="#fff"/>
<rect x="417.70" y="170.95" width="12.53" height="67.80" fill="#000"/>
<rect x="418.45" y="237.65" width="11.03" height="0.45" fill="#fff"/>
<rect x="418.45" y="234.03" width="11.03" height="1.90" fill="#fff"/>
<rect x="418.45" y="230.41" width="11.03" height="1.90" fill="#fff"/>
<rect x="418.45" y="226.79" width="11.03" height="1.90" fill="#fff"/>
<rect x="418.45" y="223.17" width="11.03" height="1.90" fill="#fff"/>
<rect x="418.45" y="219.55" width="11.03" height="1.90" fill="#fff"/>
<rect x="418.45" y="215.93" width="11.03" height="1.90" fill="#fff"/>
<rect x="418.45" y="212.31" width="11.03" height="1.90" fill="#fff"/>
<rect x="418.45" y="208.69" width="11.03" height="1.90" fill="#fff"/>
<rect x="418.45" y="205.07" width="11.03" height="1.90" fill="#fff"/>
<rect x="418.45" y="201.45" width="11.03" height="1.90" fill="#fff"/>
<rect x="418.45" y="197.83" width="11.03" height="1.90" fill="#fff"/>
<rect x="418.45" y="194.21" width="11.03" height="1.90" fill="#fff"/>
<rect x="418.45" y="190.59" width="11.03" height="1.90" fill="#fff"/>
<rect x="418.45" y="186.97" width="11.03" height="1.90" fill="#fff"/>
<rect x="418.45" y="183.35" width="11.03" height="1.90" fill="#fff"/>
<rect x="418.45" y="179.73" width="11.03" height="1.90" fill="#fff"/>
<rect x="418.45" y="176.11" width="11.03" height="1.90" fill="#fff"/>
<rect x="418.45" y="172.49" width="11.03" height="1.90" fill="#fff"/>
<rect x="430.22" y="170.95" width="12.53" height="67.80" fill="#cdcdcd"/>
<rect x="392.65" y="237.85" width="12.53" height="0.90" fill="none" stroke="#000" stroke-width="1.3"/>
<rect x="405.17" y="208.75" width="12.53" height="30.00" fill="none" stroke="#000" stroke-width="1.3"/>
<rect x="417.70" y="170.95" width="12.53" height="67.80" fill="none" stroke="#000" stroke-width="1.3"/>
<rect x="430.22" y="170.95" width="12.53" height="67.80" fill="none" stroke="#000" stroke-width="1.3"/>
<line x1="398.91" y1="236.80" x2="398.91" y2="237.20" stroke="#111" stroke-width="1.15"/>
<line x1="396.51" y1="236.80" x2="401.31" y2="236.80" stroke="#111" stroke-width="1.25"/>
<line x1="411.44" y1="202.60" x2="411.44" y2="208.10" stroke="#111" stroke-width="1.15"/>
<line x1="409.04" y1="202.60" x2="413.84" y2="202.60" stroke="#111" stroke-width="1.25"/>
<line x1="423.96" y1="167.20" x2="423.96" y2="170.30" stroke="#111" stroke-width="1.15"/>
<line x1="421.56" y1="167.20" x2="426.36" y2="167.20" stroke="#111" stroke-width="1.25"/>
<line x1="436.49" y1="168.50" x2="436.49" y2="170.30" stroke="#111" stroke-width="1.15"/>
<line x1="434.09" y1="168.50" x2="438.89" y2="168.50" stroke="#111" stroke-width="1.25"/>
<text x="397.60" y="248.90" font-size="10.1" text-anchor="middle" fill="#1a1a1a" font-weight="normal" font-style="normal" >3</text>
<circle cx="408.04" cy="199.50" r="1.08" fill="#000"/>
<circle cx="411.44" cy="199.50" r="1.08" fill="#000"/>
<circle cx="414.84" cy="199.50" r="1.08" fill="#000"/>
<text x="410.70" y="248.90" font-size="10.1" text-anchor="middle" fill="#1a1a1a" font-weight="normal" font-style="normal" >3</text>
<circle cx="420.56" cy="153.70" r="1.08" fill="#000"/>
<circle cx="423.96" cy="153.70" r="1.08" fill="#000"/>
<circle cx="427.36" cy="153.70" r="1.08" fill="#000"/>
<circle cx="420.56" cy="158.80" r="1.08" fill="#000"/>
<circle cx="423.96" cy="158.80" r="1.08" fill="#000"/>
<circle cx="427.36" cy="158.80" r="1.08" fill="#000"/>
<path d="M418.56,155.80 Q416.96,158.80 418.56,161.80" stroke="#666" stroke-width="0.7" fill="none"/>
<path d="M429.36,155.80 Q430.96,158.80 429.36,161.80" stroke="#666" stroke-width="0.7" fill="none"/>
<text x="423.70" y="248.90" font-size="10.1" text-anchor="middle" fill="#1a1a1a" font-weight="normal" font-style="normal" >3</text>
<circle cx="433.09" cy="159.50" r="1.08" fill="#000"/>
<circle cx="436.49" cy="159.50" r="1.08" fill="#000"/>
<circle cx="439.89" cy="159.50" r="1.08" fill="#000"/>
<circle cx="433.09" cy="164.50" r="1.08" fill="#000"/>
<circle cx="436.49" cy="164.50" r="1.08" fill="#000"/>
<circle cx="439.89" cy="164.50" r="1.08" fill="#000"/>
<path d="M431.09,161.50 Q429.49,164.50 431.09,167.50" stroke="#666" stroke-width="0.7" fill="none"/>
<path d="M441.89,161.50 Q443.49,164.50 441.89,167.50" stroke="#666" stroke-width="0.7" fill="none"/>
<text x="436.70" y="248.90" font-size="10.1" text-anchor="middle" fill="#1a1a1a" font-weight="normal" font-style="normal" >3</text>
<line x1="391.20" y1="251.1" x2="443.40" y2="251.1" stroke="#111" stroke-width="1.1"/>
<text x="415.90" y="261.10" font-size="9.8" text-anchor="middle" fill="#1a1a1a" font-weight="normal" font-style="normal" >+35</text>
<rect x="455.95" y="238.55" width="12.73" height="0.20" fill="#000"/>
<rect x="468.68" y="218.15" width="12.73" height="20.60" fill="#fff"/>
<rect x="481.40" y="167.95" width="12.73" height="70.80" fill="#000"/>
<rect x="482.15" y="237.65" width="11.23" height="0.45" fill="#fff"/>
<rect x="482.15" y="234.03" width="11.23" height="1.90" fill="#fff"/>
<rect x="482.15" y="230.41" width="11.23" height="1.90" fill="#fff"/>
<rect x="482.15" y="226.79" width="11.23" height="1.90" fill="#fff"/>
<rect x="482.15" y="223.17" width="11.23" height="1.90" fill="#fff"/>
<rect x="482.15" y="219.55" width="11.23" height="1.90" fill="#fff"/>
<rect x="482.15" y="215.93" width="11.23" height="1.90" fill="#fff"/>
<rect x="482.15" y="212.31" width="11.23" height="1.90" fill="#fff"/>
<rect x="482.15" y="208.69" width="11.23" height="1.90" fill="#fff"/>
<rect x="482.15" y="205.07" width="11.23" height="1.90" fill="#fff"/>
<rect x="482.15" y="201.45" width="11.23" height="1.90" fill="#fff"/>
<rect x="482.15" y="197.83" width="11.23" height="1.90" fill="#fff"/>
<rect x="482.15" y="194.21" width="11.23" height="1.90" fill="#fff"/>
<rect x="482.15" y="190.59" width="11.23" height="1.90" fill="#fff"/>
<rect x="482.15" y="186.97" width="11.23" height="1.90" fill="#fff"/>
<rect x="482.15" y="183.35" width="11.23" height="1.90" fill="#fff"/>
<rect x="482.15" y="179.73" width="11.23" height="1.90" fill="#fff"/>
<rect x="482.15" y="176.11" width="11.23" height="1.90" fill="#fff"/>
<rect x="482.15" y="172.49" width="11.23" height="1.90" fill="#fff"/>
<rect x="482.15" y="168.87" width="11.23" height="1.90" fill="#fff"/>
<rect x="494.12" y="166.85" width="12.73" height="71.90" fill="#cdcdcd"/>
<rect x="455.95" y="238.55" width="12.73" height="0.20" fill="none" stroke="#000" stroke-width="1.3"/>
<rect x="468.68" y="218.15" width="12.73" height="20.60" fill="none" stroke="#000" stroke-width="1.3"/>
<rect x="481.40" y="167.95" width="12.73" height="70.80" fill="none" stroke="#000" stroke-width="1.3"/>
<rect x="494.12" y="166.85" width="12.73" height="71.90" fill="none" stroke="#000" stroke-width="1.3"/>
<line x1="462.31" y1="237.50" x2="462.31" y2="237.90" stroke="#111" stroke-width="1.15"/>
<line x1="459.91" y1="237.50" x2="464.71" y2="237.50" stroke="#111" stroke-width="1.25"/>
<line x1="475.04" y1="213.30" x2="475.04" y2="217.50" stroke="#111" stroke-width="1.15"/>
<line x1="472.64" y1="213.30" x2="477.44" y2="213.30" stroke="#111" stroke-width="1.25"/>
<line x1="487.76" y1="165.30" x2="487.76" y2="167.30" stroke="#111" stroke-width="1.15"/>
<line x1="485.36" y1="165.30" x2="490.16" y2="165.30" stroke="#111" stroke-width="1.25"/>
<line x1="500.49" y1="165.50" x2="500.49" y2="166.20" stroke="#111" stroke-width="1.15"/>
<line x1="498.09" y1="165.50" x2="502.89" y2="165.50" stroke="#111" stroke-width="1.25"/>
<text x="461.60" y="248.90" font-size="10.1" text-anchor="middle" fill="#1a1a1a" font-weight="normal" font-style="normal" >4</text>
<circle cx="471.64" cy="209.10" r="1.08" fill="#000"/>
<circle cx="475.04" cy="209.10" r="1.08" fill="#000"/>
<circle cx="478.44" cy="209.10" r="1.08" fill="#000"/>
<text x="475.00" y="248.90" font-size="10.1" text-anchor="middle" fill="#1a1a1a" font-weight="normal" font-style="normal" >3</text>
<circle cx="484.36" cy="148.90" r="1.08" fill="#000"/>
<circle cx="487.76" cy="148.90" r="1.08" fill="#000"/>
<circle cx="491.16" cy="148.90" r="1.08" fill="#000"/>
<circle cx="484.36" cy="154.90" r="1.08" fill="#000"/>
<circle cx="487.76" cy="154.90" r="1.08" fill="#000"/>
<circle cx="491.16" cy="154.90" r="1.08" fill="#000"/>
<path d="M482.36,151.90 Q480.76,154.90 482.36,157.90" stroke="#666" stroke-width="0.7" fill="none"/>
<path d="M493.16,151.90 Q494.76,154.90 493.16,157.90" stroke="#666" stroke-width="0.7" fill="none"/>
<text x="487.90" y="248.90" font-size="10.1" text-anchor="middle" fill="#1a1a1a" font-weight="normal" font-style="normal" >3</text>
<circle cx="497.09" cy="154.90" r="1.08" fill="#000"/>
<circle cx="500.49" cy="154.90" r="1.08" fill="#000"/>
<circle cx="503.89" cy="154.90" r="1.08" fill="#000"/>
<circle cx="497.09" cy="160.60" r="1.08" fill="#000"/>
<circle cx="500.49" cy="160.60" r="1.08" fill="#000"/>
<circle cx="503.89" cy="160.60" r="1.08" fill="#000"/>
<path d="M495.09,157.60 Q493.49,160.60 495.09,163.60" stroke="#666" stroke-width="0.7" fill="none"/>
<path d="M505.89,157.60 Q507.49,160.60 505.89,163.60" stroke="#666" stroke-width="0.7" fill="none"/>
<text x="501.60" y="248.90" font-size="10.1" text-anchor="middle" fill="#1a1a1a" font-weight="normal" font-style="normal" >3</text>
<line x1="454.50" y1="251.1" x2="507.50" y2="251.1" stroke="#111" stroke-width="1.1"/>
<text x="482.00" y="261.10" font-size="9.8" text-anchor="middle" fill="#1a1a1a" font-weight="normal" font-style="normal" >post</text>
<text x="376.00" y="248.60" font-size="9.6" text-anchor="end" fill="#1a1a1a" font-weight="normal" font-style="normal" >n=</text>
<line x1="35.7" y1="269.5" x2="35.7" y2="369.6" stroke="#b0b0b0" stroke-width="1"/>
<line x1="35.7" y1="369.6" x2="177.2" y2="369.6" stroke="#d6d6d6" stroke-width="0.9"/>
<line x1="38" y1="369.6" x2="44" y2="369.6" stroke="#777" stroke-width="1"/>
<line x1="167.6" y1="369.6" x2="177.2" y2="369.6" stroke="#777" stroke-width="1"/>
<text transform="translate(34.50,371.60) " font-size="9.3" text-anchor="end" fill="#1a1a1a">0</text>
<line x1="34.2" y1="368.30" x2="35.7" y2="368.30" stroke="#b0b0b0" stroke-width="0.8"/>
<text transform="translate(34.50,347.38) " font-size="9.3" text-anchor="end" fill="#1a1a1a">20</text>
<line x1="34.2" y1="344.07" x2="35.7" y2="344.07" stroke="#b0b0b0" stroke-width="0.8"/>
<text transform="translate(34.50,323.15) " font-size="9.3" text-anchor="end" fill="#1a1a1a">40</text>
<line x1="34.2" y1="319.85" x2="35.7" y2="319.85" stroke="#b0b0b0" stroke-width="0.8"/>
<text transform="translate(34.50,298.93) " font-size="9.3" text-anchor="end" fill="#1a1a1a">60</text>
<line x1="34.2" y1="295.62" x2="35.7" y2="295.62" stroke="#b0b0b0" stroke-width="0.8"/>
<text transform="translate(34.50,274.70) " font-size="9.3" text-anchor="end" fill="#1a1a1a">80</text>
<line x1="34.2" y1="271.40" x2="35.7" y2="271.40" stroke="#b0b0b0" stroke-width="0.8"/>
<text x="-0.20" y="269.80" font-size="11.2" text-anchor="start" fill="#000" font-weight="bold" font-style="normal" >G</text>
<text transform="translate(17.30,313.10) rotate(-90)" x="0" y="0" font-size="9.85" text-anchor="middle" fill="#1a1a1a">Erythroids (%)</text>
<text x="39.7" y="276.0" font-size="7.9" fill="#2a2a2a">Ter119<tspan font-size="4.5" dy="-3">+</tspan></text>
<rect x="48.65" y="342.05" width="12.75" height="26.90" fill="#000"/>
<rect x="61.39" y="329.85" width="12.75" height="39.10" fill="#fff"/>
<rect x="74.14" y="300.95" width="12.75" height="68.00" fill="#000"/>
<rect x="74.89" y="367.85" width="11.25" height="0.45" fill="#fff"/>
<rect x="74.89" y="364.23" width="11.25" height="1.90" fill="#fff"/>
<rect x="74.89" y="360.61" width="11.25" height="1.90" fill="#fff"/>
<rect x="74.89" y="356.99" width="11.25" height="1.90" fill="#fff"/>
<rect x="74.89" y="353.37" width="11.25" height="1.90" fill="#fff"/>
<rect x="74.89" y="349.75" width="11.25" height="1.90" fill="#fff"/>
<rect x="74.89" y="346.13" width="11.25" height="1.90" fill="#fff"/>
<rect x="74.89" y="342.51" width="11.25" height="1.90" fill="#fff"/>
<rect x="74.89" y="338.89" width="11.25" height="1.90" fill="#fff"/>
<rect x="74.89" y="335.27" width="11.25" height="1.90" fill="#fff"/>
<rect x="74.89" y="331.65" width="11.25" height="1.90" fill="#fff"/>
<rect x="74.89" y="328.03" width="11.25" height="1.90" fill="#fff"/>
<rect x="74.89" y="324.41" width="11.25" height="1.90" fill="#fff"/>
<rect x="74.89" y="320.79" width="11.25" height="1.90" fill="#fff"/>
<rect x="74.89" y="317.17" width="11.25" height="1.90" fill="#fff"/>
<rect x="74.89" y="313.55" width="11.25" height="1.90" fill="#fff"/>
<rect x="74.89" y="309.93" width="11.25" height="1.90" fill="#fff"/>
<rect x="74.89" y="306.31" width="11.25" height="1.90" fill="#fff"/>
<rect x="74.89" y="302.69" width="11.25" height="1.90" fill="#fff"/>
<rect x="86.88" y="317.65" width="12.75" height="51.30" fill="#cdcdcd"/>
<rect x="48.65" y="342.05" width="12.75" height="26.90" fill="none" stroke="#000" stroke-width="1.3"/>
<rect x="61.39" y="329.85" width="12.75" height="39.10" fill="none" stroke="#000" stroke-width="1.3"/>
<rect x="74.14" y="300.95" width="12.75" height="68.00" fill="none" stroke="#000" stroke-width="1.3"/>
<rect x="86.88" y="317.65" width="12.75" height="51.30" fill="none" stroke="#000" stroke-width="1.3"/>
<line x1="55.02" y1="338.40" x2="55.02" y2="341.40" stroke="#111" stroke-width="1.15"/>
<line x1="52.62" y1="338.40" x2="57.42" y2="338.40" stroke="#111" stroke-width="1.25"/>
<line x1="67.77" y1="317.40" x2="67.77" y2="329.20" stroke="#111" stroke-width="1.15"/>
<line x1="65.37" y1="317.40" x2="70.17" y2="317.40" stroke="#111" stroke-width="1.25"/>
<line x1="80.51" y1="299.50" x2="80.51" y2="300.30" stroke="#111" stroke-width="1.15"/>
<line x1="78.11" y1="299.50" x2="82.91" y2="299.50" stroke="#111" stroke-width="1.25"/>
<line x1="93.26" y1="310.90" x2="93.26" y2="317.00" stroke="#111" stroke-width="1.15"/>
<line x1="90.86" y1="310.90" x2="95.66" y2="310.90" stroke="#111" stroke-width="1.25"/>
<text x="54.40" y="378.20" font-size="10.1" text-anchor="middle" fill="#1a1a1a" font-weight="normal" font-style="normal" >3</text>
<text x="67.20" y="378.20" font-size="10.1" text-anchor="middle" fill="#1a1a1a" font-weight="normal" font-style="normal" >3</text>
<circle cx="77.11" cy="288.20" r="1.08" fill="#000"/>
<circle cx="80.51" cy="288.20" r="1.08" fill="#000"/>
<circle cx="83.91" cy="288.20" r="1.08" fill="#000"/>
<circle cx="78.81" cy="294.90" r="1.08" fill="#000"/>
<circle cx="82.21" cy="294.90" r="1.08" fill="#000"/>
<path d="M76.81,291.90 Q75.21,294.90 76.81,297.90" stroke="#666" stroke-width="0.7" fill="none"/>
<path d="M84.21,291.90 Q85.81,294.90 84.21,297.90" stroke="#666" stroke-width="0.7" fill="none"/>
<text x="80.40" y="378.20" font-size="10.1" text-anchor="middle" fill="#1a1a1a" font-weight="normal" font-style="normal" >3</text>
<circle cx="91.56" cy="306.30" r="1.08" fill="#000"/>
<circle cx="94.96" cy="306.30" r="1.08" fill="#000"/>
<text x="93.70" y="378.20" font-size="10.1" text-anchor="middle" fill="#1a1a1a" font-weight="normal" font-style="normal" >3</text>
<line x1="47.20" y1="380.0" x2="100.28" y2="380.0" stroke="#111" stroke-width="1.1"/>
<text x="72.34" y="389.60" font-size="9.8" text-anchor="middle" fill="#1a1a1a" font-weight="normal" font-style="normal" >+35</text>
<rect x="113.35" y="339.75" width="12.58" height="29.20" fill="#000"/>
<rect x="125.93" y="315.55" width="12.58" height="53.40" fill="#fff"/>
<rect x="138.50" y="301.35" width="12.58" height="67.60" fill="#000"/>
<rect x="139.25" y="367.85" width="11.08" height="0.45" fill="#fff"/>
<rect x="139.25" y="364.23" width="11.08" height="1.90" fill="#fff"/>
<rect x="139.25" y="360.61" width="11.08" height="1.90" fill="#fff"/>
<rect x="139.25" y="356.99" width="11.08" height="1.90" fill="#fff"/>
<rect x="139.25" y="353.37" width="11.08" height="1.90" fill="#fff"/>
<rect x="139.25" y="349.75" width="11.08" height="1.90" fill="#fff"/>
<rect x="139.25" y="346.13" width="11.08" height="1.90" fill="#fff"/>
<rect x="139.25" y="342.51" width="11.08" height="1.90" fill="#fff"/>
<rect x="139.25" y="338.89" width="11.08" height="1.90" fill="#fff"/>
<rect x="139.25" y="335.27" width="11.08" height="1.90" fill="#fff"/>
<rect x="139.25" y="331.65" width="11.08" height="1.90" fill="#fff"/>
<rect x="139.25" y="328.03" width="11.08" height="1.90" fill="#fff"/>
<rect x="139.25" y="324.41" width="11.08" height="1.90" fill="#fff"/>
<rect x="139.25" y="320.79" width="11.08" height="1.90" fill="#fff"/>
<rect x="139.25" y="317.17" width="11.08" height="1.90" fill="#fff"/>
<rect x="139.25" y="313.55" width="11.08" height="1.90" fill="#fff"/>
<rect x="139.25" y="309.93" width="11.08" height="1.90" fill="#fff"/>
<rect x="139.25" y="306.31" width="11.08" height="1.90" fill="#fff"/>
<rect x="139.25" y="302.69" width="11.08" height="1.90" fill="#fff"/>
<rect x="151.08" y="304.05" width="12.58" height="64.90" fill="#cdcdcd"/>
<rect x="113.35" y="339.75" width="12.58" height="29.20" fill="none" stroke="#000" stroke-width="1.3"/>
<rect x="125.93" y="315.55" width="12.58" height="53.40" fill="none" stroke="#000" stroke-width="1.3"/>
<rect x="138.50" y="301.35" width="12.58" height="67.60" fill="none" stroke="#000" stroke-width="1.3"/>
<rect x="151.08" y="304.05" width="12.58" height="64.90" fill="none" stroke="#000" stroke-width="1.3"/>
<line x1="119.64" y1="336.90" x2="119.64" y2="339.10" stroke="#111" stroke-width="1.15"/>
<line x1="117.24" y1="336.90" x2="122.04" y2="336.90" stroke="#111" stroke-width="1.25"/>
<line x1="132.21" y1="312.70" x2="132.21" y2="314.90" stroke="#111" stroke-width="1.15"/>
<line x1="129.81" y1="312.70" x2="134.61" y2="312.70" stroke="#111" stroke-width="1.25"/>
<line x1="144.79" y1="293.00" x2="144.79" y2="300.70" stroke="#111" stroke-width="1.15"/>
<line x1="142.39" y1="293.00" x2="147.19" y2="293.00" stroke="#111" stroke-width="1.25"/>
<line x1="157.36" y1="299.30" x2="157.36" y2="303.40" stroke="#111" stroke-width="1.15"/>
<line x1="154.96" y1="299.30" x2="159.76" y2="299.30" stroke="#111" stroke-width="1.25"/>
<text x="118.20" y="378.20" font-size="10.1" text-anchor="middle" fill="#1a1a1a" font-weight="normal" font-style="normal" >4</text>
<circle cx="128.81" cy="308.50" r="1.08" fill="#000"/>
<circle cx="132.21" cy="308.50" r="1.08" fill="#000"/>
<circle cx="135.61" cy="308.50" r="1.08" fill="#000"/>
<text x="131.40" y="378.20" font-size="10.1" text-anchor="middle" fill="#1a1a1a" font-weight="normal" font-style="normal" >3</text>
<circle cx="141.39" cy="281.80" r="1.08" fill="#000"/>
<circle cx="144.79" cy="281.80" r="1.08" fill="#000"/>
<circle cx="148.19" cy="281.80" r="1.08" fill="#000"/>
<circle cx="144.79" cy="287.90" r="1.08" fill="#000"/>
<path d="M142.79,284.90 Q141.19,287.90 142.79,290.90" stroke="#666" stroke-width="0.7" fill="none"/>
<path d="M146.79,284.90 Q148.39,287.90 146.79,290.90" stroke="#666" stroke-width="0.7" fill="none"/>
<text x="144.10" y="378.20" font-size="10.1" text-anchor="middle" fill="#1a1a1a" font-weight="normal" font-style="normal" >3</text>
<circle cx="153.96" cy="287.60" r="1.08" fill="#000"/>
<circle cx="157.36" cy="287.60" r="1.08" fill="#000"/>
<circle cx="160.76" cy="287.60" r="1.08" fill="#000"/>
<circle cx="155.66" cy="293.90" r="1.08" fill="#000"/>
<circle cx="159.06" cy="293.90" r="1.08" fill="#000"/>
<path d="M153.66,290.90 Q152.06,293.90 153.66,296.90" stroke="#666" stroke-width="0.7" fill="none"/>
<path d="M161.06,290.90 Q162.66,293.90 161.06,296.90" stroke="#666" stroke-width="0.7" fill="none"/>
<text x="157.30" y="378.20" font-size="10.1" text-anchor="middle" fill="#1a1a1a" font-weight="normal" font-style="normal" >3</text>
<line x1="111.90" y1="380.0" x2="164.30" y2="380.0" stroke="#111" stroke-width="1.1"/>
<text x="139.10" y="389.60" font-size="9.8" text-anchor="middle" fill="#1a1a1a" font-weight="normal" font-style="normal" >post</text>
<text x="33.70" y="377.50" font-size="9.6" text-anchor="end" fill="#1a1a1a" font-weight="normal" font-style="normal" >n=</text>
<line x1="208.2" y1="268" x2="208.2" y2="368.9" stroke="#b0b0b0" stroke-width="1"/>
<line x1="208.2" y1="368.9" x2="348.4" y2="368.9" stroke="#d6d6d6" stroke-width="0.9"/>
<line x1="211" y1="368.9" x2="216" y2="368.9" stroke="#777" stroke-width="1"/>
<line x1="340.5" y1="368.9" x2="348.4" y2="368.9" stroke="#777" stroke-width="1"/>
<text transform="translate(207.10,370.80) " font-size="9.3" text-anchor="end" fill="#1a1a1a">0</text>
<line x1="206.7" y1="367.50" x2="208.2" y2="367.50" stroke="#b0b0b0" stroke-width="0.8"/>
<text transform="translate(207.10,346.60) " font-size="9.3" text-anchor="end" fill="#1a1a1a">20</text>
<line x1="206.7" y1="343.30" x2="208.2" y2="343.30" stroke="#b0b0b0" stroke-width="0.8"/>
<text transform="translate(207.10,322.40) " font-size="9.3" text-anchor="end" fill="#1a1a1a">40</text>
<line x1="206.7" y1="319.10" x2="208.2" y2="319.10" stroke="#b0b0b0" stroke-width="0.8"/>
<text transform="translate(207.10,298.20) " font-size="9.3" text-anchor="end" fill="#1a1a1a">60</text>
<line x1="206.7" y1="294.90" x2="208.2" y2="294.90" stroke="#b0b0b0" stroke-width="0.8"/>
<text transform="translate(207.10,274.00) " font-size="9.3" text-anchor="end" fill="#1a1a1a">80</text>
<line x1="206.7" y1="270.70" x2="208.2" y2="270.70" stroke="#b0b0b0" stroke-width="0.8"/>
<text x="178.00" y="269.90" font-size="11.2" text-anchor="start" fill="#000" font-weight="bold" font-style="normal" >H</text>
<text transform="translate(191.00,329.10) rotate(-90)" x="0" y="0" font-size="9.85" text-anchor="middle" fill="#1a1a1a">Early erythroids (%)</text>
<text x="212.0" y="273.6" font-size="7.9" fill="#2a2a2a">CD71<tspan font-size="4.5" dy="-3">+</tspan><tspan dy="3">Ter119</tspan><tspan font-size="4.5" dy="-3">+</tspan></text>
<rect x="221.15" y="341.95" width="12.88" height="26.30" fill="#000"/>
<rect x="234.03" y="332.05" width="12.88" height="36.20" fill="#fff"/>
<rect x="246.90" y="300.95" width="12.88" height="67.30" fill="#000"/>
<rect x="247.65" y="367.15" width="11.38" height="0.45" fill="#fff"/>
<rect x="247.65" y="363.53" width="11.38" height="1.90" fill="#fff"/>
<rect x="247.65" y="359.91" width="11.38" height="1.90" fill="#fff"/>
<rect x="247.65" y="356.29" width="11.38" height="1.90" fill="#fff"/>
<rect x="247.65" y="352.67" width="11.38" height="1.90" fill="#fff"/>
<rect x="247.65" y="349.05" width="11.38" height="1.90" fill="#fff"/>
<rect x="247.65" y="345.43" width="11.38" height="1.90" fill="#fff"/>
<rect x="247.65" y="341.81" width="11.38" height="1.90" fill="#fff"/>
<rect x="247.65" y="338.19" width="11.38" height="1.90" fill="#fff"/>
<rect x="247.65" y="334.57" width="11.38" height="1.90" fill="#fff"/>
<rect x="247.65" y="330.95" width="11.38" height="1.90" fill="#fff"/>
<rect x="247.65" y="327.33" width="11.38" height="1.90" fill="#fff"/>
<rect x="247.65" y="323.71" width="11.38" height="1.90" fill="#fff"/>
<rect x="247.65" y="320.09" width="11.38" height="1.90" fill="#fff"/>
<rect x="247.65" y="316.47" width="11.38" height="1.90" fill="#fff"/>
<rect x="247.65" y="312.85" width="11.38" height="1.90" fill="#fff"/>
<rect x="247.65" y="309.23" width="11.38" height="1.90" fill="#fff"/>
<rect x="247.65" y="305.61" width="11.38" height="1.90" fill="#fff"/>
<rect x="247.65" y="301.99" width="11.38" height="1.90" fill="#fff"/>
<rect x="259.77" y="321.05" width="12.88" height="47.20" fill="#cdcdcd"/>
<rect x="221.15" y="341.95" width="12.88" height="26.30" fill="none" stroke="#000" stroke-width="1.3"/>
<rect x="234.03" y="332.05" width="12.88" height="36.20" fill="none" stroke="#000" stroke-width="1.3"/>
<rect x="246.90" y="300.95" width="12.88" height="67.30" fill="none" stroke="#000" stroke-width="1.3"/>
<rect x="259.77" y="321.05" width="12.88" height="47.20" fill="none" stroke="#000" stroke-width="1.3"/>
<line x1="227.59" y1="338.00" x2="227.59" y2="341.30" stroke="#111" stroke-width="1.15"/>
<line x1="225.19" y1="338.00" x2="229.99" y2="338.00" stroke="#111" stroke-width="1.25"/>
<line x1="240.46" y1="321.50" x2="240.46" y2="331.40" stroke="#111" stroke-width="1.15"/>
<line x1="238.06" y1="321.50" x2="242.86" y2="321.50" stroke="#111" stroke-width="1.25"/>
<line x1="253.34" y1="299.50" x2="253.34" y2="300.30" stroke="#111" stroke-width="1.15"/>
<line x1="250.94" y1="299.50" x2="255.74" y2="299.50" stroke="#111" stroke-width="1.25"/>
<line x1="266.21" y1="316.00" x2="266.21" y2="320.40" stroke="#111" stroke-width="1.15"/>
<line x1="263.81" y1="316.00" x2="268.61" y2="316.00" stroke="#111" stroke-width="1.25"/>
<text x="227.10" y="378.30" font-size="10.1" text-anchor="middle" fill="#1a1a1a" font-weight="normal" font-style="normal" >3</text>
<text x="240.30" y="378.30" font-size="10.1" text-anchor="middle" fill="#1a1a1a" font-weight="normal" font-style="normal" >3</text>
<circle cx="249.94" cy="289.20" r="1.08" fill="#000"/>
<circle cx="253.34" cy="289.20" r="1.08" fill="#000"/>
<circle cx="256.74" cy="289.20" r="1.08" fill="#000"/>
<circle cx="251.64" cy="293.90" r="1.08" fill="#000"/>
<circle cx="255.04" cy="293.90" r="1.08" fill="#000"/>
<path d="M249.64,290.90 Q248.04,293.90 249.64,296.90" stroke="#666" stroke-width="0.7" fill="none"/>
<path d="M257.04,290.90 Q258.64,293.90 257.04,296.90" stroke="#666" stroke-width="0.7" fill="none"/>
<text x="252.90" y="378.30" font-size="10.1" text-anchor="middle" fill="#1a1a1a" font-weight="normal" font-style="normal" >3</text>
<circle cx="264.51" cy="311.50" r="1.08" fill="#000"/>
<circle cx="267.91" cy="311.50" r="1.08" fill="#000"/>
<text x="266.00" y="378.30" font-size="10.1" text-anchor="middle" fill="#1a1a1a" font-weight="normal" font-style="normal" >3</text>
<line x1="219.70" y1="379.8" x2="273.30" y2="379.8" stroke="#111" stroke-width="1.1"/>
<text x="245.10" y="390.10" font-size="9.8" text-anchor="middle" fill="#1a1a1a" font-weight="normal" font-style="normal" >+35</text>
<rect x="285.55" y="339.75" width="12.86" height="28.50" fill="#000"/>
<rect x="298.40" y="320.65" width="12.86" height="47.60" fill="#fff"/>
<rect x="311.26" y="300.95" width="12.86" height="67.30" fill="#000"/>
<rect x="312.01" y="367.15" width="11.36" height="0.45" fill="#fff"/>
<rect x="312.01" y="363.53" width="11.36" height="1.90" fill="#fff"/>
<rect x="312.01" y="359.91" width="11.36" height="1.90" fill="#fff"/>
<rect x="312.01" y="356.29" width="11.36" height="1.90" fill="#fff"/>
<rect x="312.01" y="352.67" width="11.36" height="1.90" fill="#fff"/>
<rect x="312.01" y="349.05" width="11.36" height="1.90" fill="#fff"/>
<rect x="312.01" y="345.43" width="11.36" height="1.90" fill="#fff"/>
<rect x="312.01" y="341.81" width="11.36" height="1.90" fill="#fff"/>
<rect x="312.01" y="338.19" width="11.36" height="1.90" fill="#fff"/>
<rect x="312.01" y="334.57" width="11.36" height="1.90" fill="#fff"/>
<rect x="312.01" y="330.95" width="11.36" height="1.90" fill="#fff"/>
<rect x="312.01" y="327.33" width="11.36" height="1.90" fill="#fff"/>
<rect x="312.01" y="323.71" width="11.36" height="1.90" fill="#fff"/>
<rect x="312.01" y="320.09" width="11.36" height="1.90" fill="#fff"/>
<rect x="312.01" y="316.47" width="11.36" height="1.90" fill="#fff"/>
<rect x="312.01" y="312.85" width="11.36" height="1.90" fill="#fff"/>
<rect x="312.01" y="309.23" width="11.36" height="1.90" fill="#fff"/>
<rect x="312.01" y="305.61" width="11.36" height="1.90" fill="#fff"/>
<rect x="312.01" y="301.99" width="11.36" height="1.90" fill="#fff"/>
<rect x="324.11" y="304.05" width="12.86" height="64.20" fill="#cdcdcd"/>
<rect x="285.55" y="339.75" width="12.86" height="28.50" fill="none" stroke="#000" stroke-width="1.3"/>
<rect x="298.40" y="320.65" width="12.86" height="47.60" fill="none" stroke="#000" stroke-width="1.3"/>
<rect x="311.26" y="300.95" width="12.86" height="67.30" fill="none" stroke="#000" stroke-width="1.3"/>
<rect x="324.11" y="304.05" width="12.86" height="64.20" fill="none" stroke="#000" stroke-width="1.3"/>
<line x1="291.98" y1="336.20" x2="291.98" y2="339.10" stroke="#111" stroke-width="1.15"/>
<line x1="289.58" y1="336.20" x2="294.38" y2="336.20" stroke="#111" stroke-width="1.25"/>
<line x1="304.83" y1="318.20" x2="304.83" y2="320.00" stroke="#111" stroke-width="1.15"/>
<line x1="302.43" y1="318.20" x2="307.23" y2="318.20" stroke="#111" stroke-width="1.25"/>
<line x1="317.69" y1="292.60" x2="317.69" y2="300.30" stroke="#111" stroke-width="1.15"/>
<line x1="315.29" y1="292.60" x2="320.09" y2="292.60" stroke="#111" stroke-width="1.25"/>
<line x1="330.54" y1="298.60" x2="330.54" y2="303.40" stroke="#111" stroke-width="1.15"/>
<line x1="328.14" y1="298.60" x2="332.94" y2="298.60" stroke="#111" stroke-width="1.25"/>
<text x="290.80" y="378.30" font-size="10.1" text-anchor="middle" fill="#1a1a1a" font-weight="normal" font-style="normal" >4</text>
<circle cx="301.43" cy="314.20" r="1.08" fill="#000"/>
<circle cx="304.83" cy="314.20" r="1.08" fill="#000"/>
<circle cx="308.23" cy="314.20" r="1.08" fill="#000"/>
<text x="304.70" y="378.30" font-size="10.1" text-anchor="middle" fill="#1a1a1a" font-weight="normal" font-style="normal" >3</text>
<circle cx="314.29" cy="280.50" r="1.08" fill="#000"/>
<circle cx="317.69" cy="280.50" r="1.08" fill="#000"/>
<circle cx="321.09" cy="280.50" r="1.08" fill="#000"/>
<circle cx="315.99" cy="286.80" r="1.08" fill="#000"/>
<circle cx="319.39" cy="286.80" r="1.08" fill="#000"/>
<path d="M313.99,283.80 Q312.39,286.80 313.99,289.80" stroke="#666" stroke-width="0.7" fill="none"/>
<path d="M321.39,283.80 Q322.99,286.80 321.39,289.80" stroke="#666" stroke-width="0.7" fill="none"/>
<text x="317.20" y="378.30" font-size="10.1" text-anchor="middle" fill="#1a1a1a" font-weight="normal" font-style="normal" >3</text>
<circle cx="327.14" cy="286.80" r="1.08" fill="#000"/>
<circle cx="330.54" cy="286.80" r="1.08" fill="#000"/>
<circle cx="333.94" cy="286.80" r="1.08" fill="#000"/>
<circle cx="328.84" cy="293.30" r="1.08" fill="#000"/>
<circle cx="332.24" cy="293.30" r="1.08" fill="#000"/>
<path d="M326.84,290.30 Q325.24,293.30 326.84,296.30" stroke="#666" stroke-width="0.7" fill="none"/>
<path d="M334.24,290.30 Q335.84,293.30 334.24,296.30" stroke="#666" stroke-width="0.7" fill="none"/>
<text x="330.40" y="378.30" font-size="10.1" text-anchor="middle" fill="#1a1a1a" font-weight="normal" font-style="normal" >3</text>
<line x1="284.10" y1="379.8" x2="337.62" y2="379.8" stroke="#111" stroke-width="1.1"/>
<text x="311.86" y="390.10" font-size="9.8" text-anchor="middle" fill="#1a1a1a" font-weight="normal" font-style="normal" >post</text>
<text x="205.90" y="377.60" font-size="9.6" text-anchor="end" fill="#1a1a1a" font-weight="normal" font-style="normal" >n=</text>
<rect x="352.3" y="264.2" width="11.5" height="11.2" fill="#000"/>
<rect x="352.90000000000003" y="277.5" width="10.3" height="9.200000000000001" fill="#fff" stroke="#000" stroke-width="1.2"/>
<rect x="352.3" y="289.8" width="11.5" height="10.2" fill="#000"/>
<rect x="353.7" y="291.30" width="8.7" height="1.5" fill="#fff"/>
<rect x="353.7" y="294.05" width="8.7" height="1.5" fill="#fff"/>
<rect x="353.7" y="296.80" width="8.7" height="1.5" fill="#fff"/>
<rect x="352.90000000000003" y="302.90000000000003" width="10.3" height="8.4" fill="#cdcdcd" stroke="#000" stroke-width="1.2"/>
<text x="366.30" y="273.10" font-size="9.9" text-anchor="start" fill="#222" font-weight="normal" font-style="italic" >Rb<tspan font-size="6.6" dy="-3.6">LoxP/LoxP</tspan></text>
<text x="366.30" y="286.00" font-size="9.9" text-anchor="start" fill="#222" font-weight="normal" font-style="italic" >Rb<tspan font-size="6.6" dy="-3.6">Δ/Δ</tspan></text>
<text x="366.30" y="298.00" font-size="9.9" text-anchor="start" fill="#222" font-weight="normal" font-style="italic" >Rb<tspan font-size="6.6" dy="-3.6">Δ/Δ</tspan><tspan dy="3.6">E2f8</tspan><tspan font-size="6.6" dy="-3.6">Δ/Δ</tspan></text>
<text x="366.30" y="310.40" font-size="9.9" text-anchor="start" fill="#222" font-weight="normal" font-style="italic" >Rb<tspan font-size="6.6" dy="-3.6">Δ/Δ</tspan><tspan dy="3.6">E2f7</tspan><tspan font-size="6.6" dy="-3.6">Δ/Δ</tspan><tspan dy="3.6">E2f8</tspan><tspan font-size="6.6" dy="-3.6">Δ/Δ</tspan></text>
</svg>
</body></html>
